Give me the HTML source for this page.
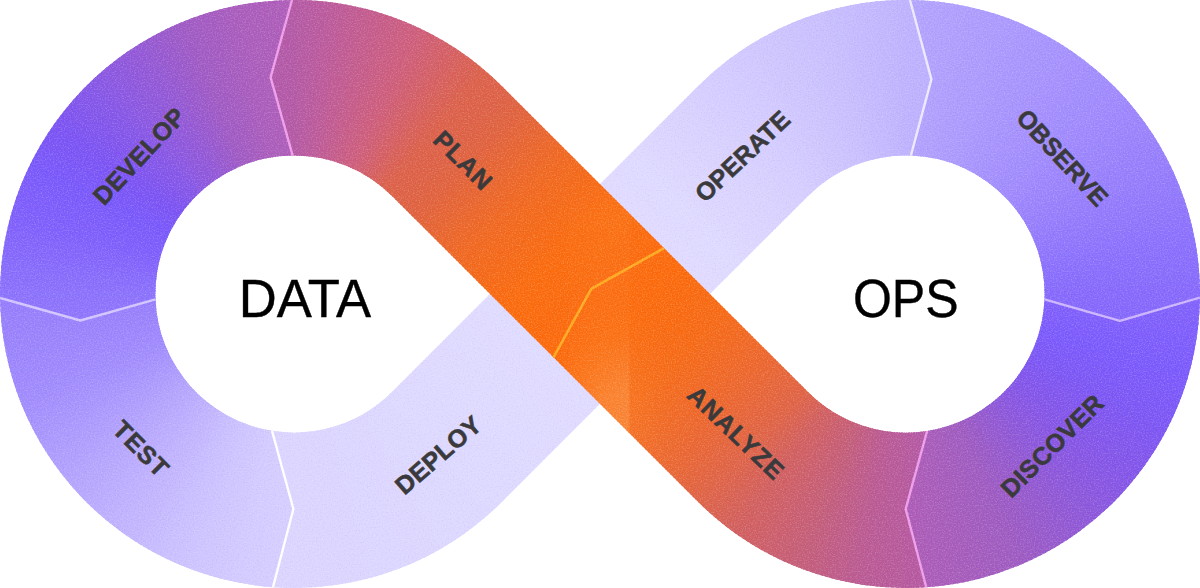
<!DOCTYPE html>
<html lang="en"><head><meta charset="utf-8"><title>DataOps loop</title>
<style>html,body{margin:0;padding:0;background:#fff}body{width:1200px;height:588px;overflow:hidden;font-family:"Liberation Sans",sans-serif}svg{display:block}.lb{font-family:"Liberation Sans",sans-serif;font-weight:700;font-size:25px;fill:#3a3a3c;stroke:#3a3a3c;stroke-width:.6px;text-anchor:middle}.ct{font-family:"Liberation Sans",sans-serif;font-weight:400;font-size:54px;fill:#000;stroke:#000;stroke-width:.4px;text-anchor:middle}</style></head><body>
<svg width="1200" height="588" viewBox="0 0 1200 588">
<defs>
<clipPath id="cDEVELOP"><path d="M292 0.01 L270.6 77.4 L292.6 155.41 A138.6 138.6 0 0 0 155.5 299.3 L80.4 320.5 L0.03 298 A294 294 0 0 1 292 0.01Z"/></clipPath>
<clipPath id="cTEST"><path d="M0.03 298 L80.4 320.5 L155.5 299.3 A138.6 138.6 0 0 0 272.01 430.84 L293.4 509 L272.95 587.25 A294 294 0 0 1 0.03 298Z"/></clipPath>
<clipPath id="cPLAN"><path d="M292 0.01 A294 294 0 0 1 501.82 86.04 L664 248.1 L591.3 288.8 L553.46 357.34 L391.97 195.96 A138.6 138.6 0 0 0 292.6 155.41 L270.6 77.4Z"/></clipPath>
<clipPath id="cANALYZE"><path d="M664 248.1 L591.3 288.8 L553.46 357.34 L698.18 501.96 A294 294 0 0 0 926.25 587.3 L905.7 509 L927.11 430.98 A138.6 138.6 0 0 1 808.03 392.04 Z"/></clipPath>
<clipPath id="cDISCOVER"><path d="M927.11 430.98 L905.7 509 L926.25 587.3 A294 294 0 0 0 1199.98 297.6 L1119.9 320.9 L1044.5 299.32 A138.6 138.6 0 0 1 927.11 430.98Z"/></clipPath>
<clipPath id="cOBSERVE"><path d="M910 0.03 L931.4 79.4 L910.91 155.49 A138.6 138.6 0 0 1 1044.5 299.32 L1119.9 320.9 L1199.98 297.6 A294 294 0 0 0 910 0.03Z"/></clipPath>
<clipPath id="cDEPLOY"><path d="M272.01 430.84 L293.4 509 L272.95 587.25 A294 294 0 0 0 501.82 501.96 L657.05 346.84 L547.2 236.92 L391.97 392.04 A138.6 138.6 0 0 1 272.01 430.84Z"/></clipPath>
<clipPath id="cOPERATE"><path d="M545.08 239.04 L698.18 86.04 A294 294 0 0 1 910 0.03 L931.4 79.4 L910.91 155.49 A138.6 138.6 0 0 0 808.03 195.96 L808.03 195.96 L654.92 348.96Z"/></clipPath>
<linearGradient id="fh" gradientUnits="userSpaceOnUse" x1="560" y1="0" x2="700" y2="0"><stop offset="0" stop-color="#ffa85c" stop-opacity="0"/><stop offset=".1" stop-color="#ffa85c" stop-opacity=".18"/><stop offset=".3" stop-color="#ffa85c" stop-opacity=".37"/><stop offset=".485" stop-color="#ffa85c" stop-opacity=".44"/><stop offset=".505" stop-color="#ffa85c" stop-opacity=".14"/><stop offset=".75" stop-color="#ffa85c" stop-opacity=".04"/><stop offset="1" stop-color="#ffa85c" stop-opacity="0"/></linearGradient>
<linearGradient id="fv" gradientUnits="userSpaceOnUse" x1="0" y1="180" x2="0" y2="480"><stop offset="0" stop-color="#fff" stop-opacity="0"/><stop offset=".12" stop-color="#fff" stop-opacity=".22"/><stop offset=".4" stop-color="#fff" stop-opacity=".16"/><stop offset=".53" stop-color="#fff" stop-opacity=".3"/><stop offset=".72" stop-color="#fff" stop-opacity="1"/><stop offset="1" stop-color="#fff" stop-opacity="1"/></linearGradient>
<mask id="fm" maskUnits="userSpaceOnUse" x="540" y="180" width="200" height="300"><rect x="540" y="180" width="200" height="300" fill="url(#fv)"/></mask>
<clipPath id="cORANGE"><path d="M292 0.01 A294 294 0 0 1 501.82 86.04 L664 248.1 L591.3 288.8 L553.46 357.34 L391.97 195.96 A138.6 138.6 0 0 0 292.6 155.41 L270.6 77.4Z"/><path d="M664 248.1 L591.3 288.8 L553.46 357.34 L698.18 501.96 A294 294 0 0 0 926.25 587.3 L905.7 509 L927.11 430.98 A138.6 138.6 0 0 1 808.03 392.04 Z"/></clipPath>
<clipPath id="cALL"><path d="M292 0.01 L270.6 77.4 L292.6 155.41 A138.6 138.6 0 0 0 155.5 299.3 L80.4 320.5 L0.03 298 A294 294 0 0 1 292 0.01Z"/><path d="M0.03 298 L80.4 320.5 L155.5 299.3 A138.6 138.6 0 0 0 272.01 430.84 L293.4 509 L272.95 587.25 A294 294 0 0 1 0.03 298Z"/><path d="M292 0.01 A294 294 0 0 1 501.82 86.04 L664 248.1 L591.3 288.8 L553.46 357.34 L391.97 195.96 A138.6 138.6 0 0 0 292.6 155.41 L270.6 77.4Z"/><path d="M664 248.1 L591.3 288.8 L553.46 357.34 L698.18 501.96 A294 294 0 0 0 926.25 587.3 L905.7 509 L927.11 430.98 A138.6 138.6 0 0 1 808.03 392.04 Z"/><path d="M927.11 430.98 L905.7 509 L926.25 587.3 A294 294 0 0 0 1199.98 297.6 L1119.9 320.9 L1044.5 299.32 A138.6 138.6 0 0 1 927.11 430.98Z"/><path d="M910 0.03 L931.4 79.4 L910.91 155.49 A138.6 138.6 0 0 1 1044.5 299.32 L1119.9 320.9 L1199.98 297.6 A294 294 0 0 0 910 0.03Z"/><path d="M272.01 430.84 L293.4 509 L272.95 587.25 A294 294 0 0 0 501.82 501.96 L657.05 346.84 L547.2 236.92 L391.97 392.04 A138.6 138.6 0 0 1 272.01 430.84Z"/><path d="M545.08 239.04 L698.18 86.04 A294 294 0 0 1 910 0.03 L931.4 79.4 L910.91 155.49 A138.6 138.6 0 0 0 808.03 195.96 L808.03 195.96 L654.92 348.96Z"/></clipPath>
<filter id="grain" x="0" y="0" width="1200" height="588" filterUnits="userSpaceOnUse" color-interpolation-filters="sRGB"><feTurbulence type="fractalNoise" baseFrequency="0.73" numOctaves="2" seed="5" result="n"/><feColorMatrix in="n" type="matrix" values="0 0 0 0 1  0 0 0 0 1  0 0 0 0 1  0.5 0 0 0 -0.235" result="w"/><feColorMatrix in="n" type="matrix" values="0 0 0 0 .2  0 0 0 0 0  0 0 0 0 .4  -0.16 0 0 0 0.07" result="b"/><feMerge><feMergeNode in="w"/><feMergeNode in="b"/></feMerge></filter>
</defs>
<g clip-path="url(#cDEPLOY)" shape-rendering="crispEdges">
<path d="M262.89 418.78 L220.46 588.97 L228.72 590.91 L266.38 419.6Z" fill="#dbd5ff"/>
<path d="M265.07 419.3 L225.61 590.21 L233.91 592 L268.58 420.06Z" fill="#dbd5ff"/>
<path d="M267.26 419.79 L230.79 591.36 L239.12 593 L270.78 420.49Z" fill="#dbd5ff"/>
<path d="M269.46 420.24 L235.99 592.41 L244.34 593.92 L272.99 420.87Z" fill="#dbd5ff"/>
<path d="M271.67 420.65 L241.2 593.38 L249.58 594.74 L275.21 421.22Z" fill="#dbd5ff"/>
<path d="M273.88 421.02 L246.44 594.26 L254.84 595.47 L277.43 421.53Z" fill="#dbd5ff"/>
<path d="M276.1 421.35 L251.68 595.04 L260.1 596.1 L279.66 421.8Z" fill="#dbd5ff"/>
<path d="M278.32 421.64 L256.94 595.73 L265.38 596.65 L281.89 422.03Z" fill="#dbd5ff"/>
<path d="M280.55 421.89 L262.21 596.33 L270.66 597.1 L284.13 422.22Z" fill="#dbd5ff"/>
<path d="M282.79 422.11 L267.49 596.84 L275.95 597.46 L286.37 422.37Z" fill="#dbd5ff"/>
<path d="M285.02 422.29 L272.78 597.26 L281.25 597.73 L288.61 422.49Z" fill="#dcd5ff"/>
<path d="M287.26 422.42 L278.07 597.58 L286.55 597.91 L290.85 422.56Z" fill="#dcd5ff"/>
<path d="M289.5 422.52 L283.37 597.81 L291.85 597.99 L293.09 422.6Z" fill="#dcd5ff"/>
<path d="M291.75 422.58 L288.67 597.95 L297.16 597.98 L295.34 422.59Z" fill="#dcd6ff"/>
<path d="M293.99 422.6 L293.98 598 L302.46 597.88 L297.58 422.55Z" fill="#dcd6ff"/>
<path d="M296.23 422.58 L299.28 597.95 L307.76 597.69 L299.82 422.47Z" fill="#dcd6ff"/>
<path d="M298.48 422.52 L304.58 597.82 L313.06 597.4 L302.06 422.35Z" fill="#dcd6ff"/>
<path d="M300.72 422.42 L309.88 597.58 L318.35 597.02 L304.3 422.19Z" fill="#dcd6ff"/>
<path d="M302.96 422.29 L315.17 597.26 L323.63 596.55 L306.53 421.99Z" fill="#dcd6ff"/>
<path d="M305.19 422.11 L320.46 596.85 L328.91 595.99 L308.77 421.75Z" fill="#dcd6ff"/>
<path d="M307.43 421.9 L325.74 596.34 L334.17 595.33 L310.99 421.47Z" fill="#dcd6ff"/>
<path d="M309.66 421.64 L331.01 595.74 L339.42 594.59 L313.21 421.16Z" fill="#dcd6ff"/>
<path d="M311.88 421.35 L336.27 595.05 L344.66 593.75 L315.43 420.8Z" fill="#dcd6ff"/>
<path d="M314.1 421.02 L341.52 594.26 L349.88 592.82 L317.64 420.41Z" fill="#dcd6ff"/>
<path d="M316.31 420.65 L346.75 593.39 L355.08 591.8 L319.84 419.98Z" fill="#dcd6ff"/>
<path d="M318.52 420.24 L351.96 592.42 L360.27 590.69 L322.03 419.51Z" fill="#dcd6ff"/>
<path d="M320.72 419.79 L357.16 591.37 L365.44 589.49 L324.22 419Z" fill="#dcd6ff"/>
<path d="M322.91 419.31 L362.34 590.22 L370.58 588.2 L326.4 418.45Z" fill="#dcd6ff"/>
<path d="M325.09 418.79 L367.5 588.98 L375.7 586.82 L328.56 417.87Z" fill="#dcd6ff"/>
<path d="M327.26 418.22 L372.63 587.65 L380.8 585.35 L330.72 417.25Z" fill="#dcd7ff"/>
<path d="M329.43 417.62 L377.74 586.24 L385.87 583.79 L332.86 416.59Z" fill="#dcd7ff"/>
<path d="M331.58 416.99 L382.83 584.73 L390.91 582.14 L335 415.89Z" fill="#dcd7ff"/>
<path d="M333.72 416.31 L387.89 583.14 L395.92 580.41 L337.12 415.16Z" fill="#dcd7ff"/>
<path d="M335.84 415.6 L392.92 581.46 L400.9 578.58 L339.22 414.39Z" fill="#dcd7ff"/>
<path d="M337.96 414.85 L397.92 579.69 L405.85 576.67 L341.32 413.58Z" fill="#dcd7ff"/>
<path d="M340.06 414.07 L402.89 577.83 L410.77 574.68 L343.4 412.74Z" fill="#dcd7ff"/>
<path d="M342.15 413.25 L407.82 575.89 L415.65 572.6 L345.46 411.86Z" fill="#dcd7ff"/>
<path d="M344.22 412.39 L412.72 573.86 L420.49 570.44 L347.51 410.94Z" fill="#ddd7ff"/>
<path d="M346.28 411.49 L417.59 571.75 L425.29 568.19 L349.54 409.99Z" fill="#ddd7ff"/>
<path d="M348.32 410.56 L422.41 569.55 L430.06 565.85 L351.55 409Z" fill="#ddd7ff"/>
<path d="M350.35 409.6 L427.2 567.26 L434.78 563.44 L353.55 407.98Z" fill="#ddd7ff"/>
<path d="M352.36 408.6 L431.95 564.9 L439.46 560.94 L355.53 406.92Z" fill="#ddd7ff"/>
<path d="M354.35 407.56 L436.65 562.45 L444.09 558.36 L357.49 405.83Z" fill="#ddd7ff"/>
<path d="M356.32 406.49 L441.32 559.92 L448.68 555.71 L359.43 404.71Z" fill="#ddd7ff"/>
<path d="M358.27 405.39 L445.93 557.31 L453.22 552.97 L361.36 403.55Z" fill="#ddd8ff"/>
<path d="M360.2 404.25 L450.5 554.62 L457.72 550.15 L363.26 402.36Z" fill="#ddd8ff"/>
<path d="M362.12 403.08 L455.03 551.85 L462.16 547.25 L365.14 401.13Z" fill="#ddd8ff"/>
<path d="M364.01 401.87 L459.5 549 L466.55 544.28 L366.99 399.88Z" fill="#ddd8ff"/>
<path d="M365.88 400.63 L463.92 546.08 L470.89 541.23 L368.83 398.59Z" fill="#ddd8ff"/>
<path d="M367.73 399.36 L468.3 543.07 L475.18 538.11 L370.64 397.26Z" fill="#ddd8ff"/>
<path d="M369.56 398.06 L472.61 539.99 L479.41 534.91 L372.43 395.91Z" fill="#ddd8ff"/>
<path d="M371.36 396.73 L476.88 536.84 L483.59 531.64 L374.2 394.53Z" fill="#ddd8ff"/>
<path d="M373.14 395.36 L481.09 533.61 L487.7 528.3 L375.94 393.11Z" fill="#ddd8ff"/>
<path d="M374.9 393.97 L485.24 530.31 L491.76 524.88 L377.66 391.67Z" fill="#ddd8ff"/>
<path d="M376.63 392.54 L489.33 526.94 L495.76 521.4 L379.35 390.19Z" fill="#ddd8ff"/>
<path d="M378.34 391.08 L493.37 523.5 L499.7 517.84 L381.02 388.69Z" fill="#ddd8ff"/>
<path d="M380.02 389.6 L497.34 519.98 L503.57 514.22 L382.65 387.16Z" fill="#ded9ff"/>
<path d="M381.67 388.08 L501.25 516.4 L507.38 510.53 L384.27 385.6Z" fill="#ded9ff"/>
<path d="M383.3 386.54 L505.1 512.75 L511.13 506.77 L385.85 384.01Z" fill="#ded9ff"/>
<path d="M508.89 509.03 L512.77 505.15 L388.79 381.08 L384.9 384.97Z" fill="#ded9ff"/>
<path d="M511.71 506.21 L515.59 502.33 L391.61 378.26 L387.72 382.14Z" fill="#ded9ff"/>
<path d="M514.53 503.39 L518.41 499.51 L394.43 375.44 L390.55 379.32Z" fill="#ded9ff"/>
<path d="M517.35 500.57 L521.24 496.69 L397.25 372.62 L393.37 376.5Z" fill="#ded9ff"/>
<path d="M520.18 497.75 L524.06 493.87 L400.08 369.8 L396.19 373.68Z" fill="#ded9ff"/>
<path d="M523 494.93 L526.88 491.05 L402.9 366.98 L399.01 370.86Z" fill="#ded9ff"/>
<path d="M525.82 492.11 L529.7 488.23 L405.72 364.16 L401.84 368.04Z" fill="#ded9ff"/>
<path d="M528.64 489.29 L532.53 485.41 L408.54 361.34 L404.66 365.22Z" fill="#ded9ff"/>
<path d="M531.46 486.47 L535.35 482.59 L411.36 358.52 L407.48 362.4Z" fill="#ded9ff"/>
<path d="M534.29 483.65 L538.17 479.77 L414.19 355.7 L410.3 359.58Z" fill="#dedaff"/>
<path d="M537.11 480.83 L540.99 476.95 L417.01 352.88 L413.13 356.76Z" fill="#dedaff"/>
<path d="M539.93 478.01 L543.82 474.13 L419.83 350.06 L415.95 353.94Z" fill="#dfdaff"/>
<path d="M542.75 475.19 L546.64 471.31 L422.65 347.24 L418.77 351.12Z" fill="#dfdaff"/>
<path d="M545.58 472.37 L549.46 468.49 L425.48 344.42 L421.59 348.3Z" fill="#dfdaff"/>
<path d="M548.4 469.55 L552.28 465.67 L428.3 341.6 L424.42 345.48Z" fill="#dfdaff"/>
<path d="M551.22 466.73 L555.1 462.85 L431.12 338.78 L427.24 342.66Z" fill="#dfdaff"/>
<path d="M554.04 463.91 L557.93 460.03 L433.94 335.96 L430.06 339.84Z" fill="#dfdaff"/>
<path d="M556.87 461.09 L560.75 457.21 L436.77 333.14 L432.88 337.02Z" fill="#dfdaff"/>
<path d="M559.69 458.27 L563.57 454.39 L439.59 330.32 L435.7 334.2Z" fill="#dfdaff"/>
<path d="M562.51 455.45 L566.39 451.57 L442.41 327.5 L438.53 331.38Z" fill="#dfdaff"/>
<path d="M565.33 452.63 L569.22 448.75 L445.23 324.68 L441.35 328.56Z" fill="#dfdbff"/>
<path d="M568.16 449.81 L572.04 445.93 L448.05 321.86 L444.17 325.74Z" fill="#dfdbff"/>
<path d="M570.98 446.99 L574.86 443.11 L450.88 319.04 L446.99 322.92Z" fill="#dfdbff"/>
<path d="M573.8 444.17 L577.68 440.29 L453.7 316.22 L449.82 320.1Z" fill="#dfdbff"/>
<path d="M576.62 441.35 L580.51 437.46 L456.52 313.4 L452.64 317.28Z" fill="#e0dbff"/>
<path d="M579.44 438.53 L583.33 434.64 L459.34 310.58 L455.46 314.46Z" fill="#e0dbff"/>
<path d="M582.27 435.7 L586.15 431.82 L462.17 307.75 L458.28 311.64Z" fill="#e0dbff"/>
<path d="M585.09 432.88 L588.97 429 L464.99 304.93 L461.11 308.82Z" fill="#e0dbff"/>
<path d="M587.91 430.06 L591.79 426.18 L467.81 302.11 L463.93 305.99Z" fill="#e0dbff"/>
<path d="M590.73 427.24 L594.62 423.36 L470.63 299.29 L466.75 303.17Z" fill="#e0dbff"/>
<path d="M593.56 424.42 L597.44 420.54 L473.46 296.47 L469.57 300.35Z" fill="#e0dbff"/>
<path d="M596.38 421.6 L600.26 417.72 L476.28 293.65 L472.39 297.53Z" fill="#e0dcff"/>
<path d="M599.2 418.78 L603.08 414.9 L479.1 290.83 L475.22 294.71Z" fill="#e0dcff"/>
<path d="M602.02 415.96 L605.91 412.08 L481.92 288.01 L478.04 291.89Z" fill="#e0dcff"/>
<path d="M604.85 413.14 L608.73 409.26 L484.74 285.19 L480.86 289.07Z" fill="#e0dcff"/>
<path d="M607.67 410.32 L611.55 406.44 L487.57 282.37 L483.68 286.25Z" fill="#e0dcff"/>
<path d="M610.49 407.5 L614.37 403.62 L490.39 279.55 L486.51 283.43Z" fill="#e0dcff"/>
<path d="M613.31 404.68 L617.2 400.8 L493.21 276.73 L489.33 280.61Z" fill="#e0dcff"/>
<path d="M616.13 401.86 L620.02 397.98 L496.03 273.91 L492.15 277.79Z" fill="#e1dcff"/>
<path d="M618.96 399.04 L622.84 395.16 L498.86 271.09 L494.97 274.97Z" fill="#e1dcff"/>
<path d="M621.78 396.22 L625.66 392.34 L501.68 268.27 L497.8 272.15Z" fill="#e1dcff"/>
<path d="M624.6 393.4 L628.48 389.52 L504.5 265.45 L500.62 269.33Z" fill="#e1dcff"/>
<path d="M627.42 390.58 L631.31 386.7 L507.32 262.63 L503.44 266.51Z" fill="#e1dcff"/>
<path d="M630.25 387.76 L634.13 383.88 L510.15 259.81 L506.26 263.69Z" fill="#e1ddff"/>
<path d="M633.07 384.94 L636.95 381.06 L512.97 256.99 L509.08 260.87Z" fill="#e1ddff"/>
<path d="M635.89 382.12 L639.77 378.24 L515.79 254.17 L511.91 258.05Z" fill="#e1ddff"/>
<path d="M638.71 379.3 L642.6 375.42 L518.61 251.35 L514.73 255.23Z" fill="#e1ddff"/>
<path d="M641.54 376.48 L645.42 372.6 L521.43 248.53 L517.55 252.41Z" fill="#e1ddff"/>
<path d="M644.36 373.66 L648.24 369.78 L524.26 245.71 L520.37 249.59Z" fill="#e1ddff"/>
<path d="M647.18 370.84 L651.06 366.96 L527.08 242.89 L523.2 246.77Z" fill="#e1ddff"/>
<path d="M650 368.02 L653.89 364.14 L529.9 240.07 L526.02 243.95Z" fill="#e1ddff"/>
<path d="M652.82 365.2 L656.71 361.31 L532.72 237.25 L528.84 241.13Z" fill="#e2ddff"/>
<path d="M655.65 362.38 L659.53 358.49 L535.55 234.43 L531.66 238.31Z" fill="#e2ddff"/>
<path d="M658.47 359.55 L662.35 355.67 L538.37 231.6 L534.49 235.49Z" fill="#e2ddff"/>
<path d="M661.29 356.73 L665.17 352.85 L541.19 228.78 L537.31 232.67Z" fill="#e2deff"/>
</g>
<g clip-path="url(#cOPERATE)" shape-rendering="crispEdges">
<path d="M661.99 356.03 L665.84 352.19 L541.85 228.12 L538.01 231.97Z" fill="#e2deff"/>
<path d="M664.78 353.25 L668.62 349.41 L544.64 225.34 L540.79 229.18Z" fill="#e2deff"/>
<path d="M667.56 350.47 L671.4 346.63 L547.42 222.56 L543.58 226.4Z" fill="#e2ddff"/>
<path d="M670.34 347.69 L674.19 343.85 L550.2 219.78 L546.36 223.62Z" fill="#e2ddff"/>
<path d="M673.13 344.91 L676.97 341.07 L552.99 217 L549.14 220.84Z" fill="#e2ddff"/>
<path d="M675.91 342.13 L679.76 338.28 L555.77 214.21 L551.93 218.06Z" fill="#e1ddff"/>
<path d="M678.69 339.34 L682.54 335.5 L558.56 211.43 L554.71 215.27Z" fill="#e1ddff"/>
<path d="M681.48 336.56 L685.32 332.72 L561.34 208.65 L557.49 212.49Z" fill="#e1ddff"/>
<path d="M684.26 333.78 L688.11 329.94 L564.12 205.87 L560.28 209.71Z" fill="#e1ddff"/>
<path d="M687.05 331 L690.89 327.16 L566.91 203.09 L563.06 206.93Z" fill="#e1ddff"/>
<path d="M689.83 328.22 L693.67 324.37 L569.69 200.31 L565.85 204.15Z" fill="#e1dcff"/>
<path d="M692.61 325.43 L696.46 321.59 L572.47 197.52 L568.63 201.37Z" fill="#e1dcff"/>
<path d="M695.4 322.65 L699.24 318.81 L575.26 194.74 L571.41 198.58Z" fill="#e1dcff"/>
<path d="M698.18 319.87 L702.03 316.03 L578.04 191.96 L574.2 195.8Z" fill="#e1dcff"/>
<path d="M700.96 317.09 L704.81 313.25 L580.83 189.18 L576.98 193.02Z" fill="#e0dcff"/>
<path d="M703.75 314.31 L707.59 310.47 L583.61 186.4 L579.76 190.24Z" fill="#e0dcff"/>
<path d="M706.53 311.53 L710.38 307.68 L586.39 183.61 L582.55 187.46Z" fill="#e0dcff"/>
<path d="M709.32 308.74 L713.16 304.9 L589.18 180.83 L585.33 184.67Z" fill="#e0dbff"/>
<path d="M712.1 305.96 L715.94 302.12 L591.96 178.05 L588.12 181.89Z" fill="#e0dbff"/>
<path d="M714.88 303.18 L718.73 299.34 L594.74 175.27 L590.9 179.11Z" fill="#e0dbff"/>
<path d="M717.67 300.4 L721.51 296.56 L597.53 172.49 L593.68 176.33Z" fill="#e0dbff"/>
<path d="M720.45 297.62 L724.3 293.77 L600.31 169.71 L596.47 173.55Z" fill="#e0dbff"/>
<path d="M723.23 294.83 L727.08 290.99 L603.1 166.92 L599.25 170.77Z" fill="#e0dbff"/>
<path d="M726.02 292.05 L729.86 288.21 L605.88 164.14 L602.03 167.98Z" fill="#e0dbff"/>
<path d="M728.8 289.27 L732.65 285.43 L608.66 161.36 L604.82 165.2Z" fill="#dfdaff"/>
<path d="M731.59 286.49 L735.43 282.65 L611.45 158.58 L607.6 162.42Z" fill="#dfdaff"/>
<path d="M734.37 283.71 L738.21 279.87 L614.23 155.8 L610.39 159.64Z" fill="#dfdaff"/>
<path d="M737.15 280.93 L741 277.08 L617.01 153.01 L613.17 156.86Z" fill="#dfdaff"/>
<path d="M739.94 278.14 L743.78 274.3 L619.8 150.23 L615.95 154.07Z" fill="#dfdaff"/>
<path d="M742.72 275.36 L746.57 271.52 L622.58 147.45 L618.74 151.29Z" fill="#dfdaff"/>
<path d="M745.5 272.58 L749.35 268.74 L625.37 144.67 L621.52 148.51Z" fill="#dfdaff"/>
<path d="M748.29 269.8 L752.13 265.96 L628.15 141.89 L624.3 145.73Z" fill="#ded9ff"/>
<path d="M751.07 267.02 L754.92 263.17 L630.93 139.11 L627.09 142.95Z" fill="#ded9ff"/>
<path d="M753.86 264.23 L757.7 260.39 L633.72 136.32 L629.87 140.17Z" fill="#ded8ff"/>
<path d="M756.64 261.45 L760.48 257.61 L636.5 133.54 L632.66 137.38Z" fill="#ddd8ff"/>
<path d="M759.42 258.67 L763.27 254.83 L639.28 130.76 L635.44 134.6Z" fill="#ddd7ff"/>
<path d="M762.21 255.89 L766.05 252.05 L642.07 127.98 L638.22 131.82Z" fill="#ddd7ff"/>
<path d="M764.99 253.11 L768.83 249.27 L644.85 125.2 L641.01 129.04Z" fill="#dcd7ff"/>
<path d="M767.77 250.33 L771.62 246.48 L647.63 122.41 L643.79 126.26Z" fill="#dcd6ff"/>
<path d="M770.56 247.54 L774.4 243.7 L650.42 119.63 L646.57 123.47Z" fill="#dcd6ff"/>
<path d="M773.34 244.76 L777.19 240.92 L653.2 116.85 L649.36 120.69Z" fill="#dbd5ff"/>
<path d="M776.13 241.98 L779.97 238.14 L655.99 114.07 L652.14 117.91Z" fill="#dbd5ff"/>
<path d="M778.91 239.2 L782.75 235.36 L658.77 111.29 L654.93 115.13Z" fill="#dad4ff"/>
<path d="M781.69 236.42 L785.54 232.57 L661.55 108.51 L657.71 112.35Z" fill="#dad4ff"/>
<path d="M784.48 233.63 L788.32 229.79 L664.34 105.72 L660.49 109.57Z" fill="#dad3ff"/>
<path d="M787.26 230.85 L791.1 227.01 L667.12 102.94 L663.28 106.78Z" fill="#d9d3ff"/>
<path d="M790.04 228.07 L793.89 224.23 L669.9 100.16 L666.06 104Z" fill="#d9d3ff"/>
<path d="M792.83 225.29 L796.67 221.45 L672.69 97.38 L668.84 101.22Z" fill="#d9d2ff"/>
<path d="M795.61 222.51 L799.46 218.67 L675.47 94.6 L671.63 98.44Z" fill="#d8d2ff"/>
<path d="M798.4 219.73 L802.24 215.88 L678.26 91.81 L674.41 95.66Z" fill="#d8d1ff"/>
<path d="M801.18 216.94 L805.02 213.1 L681.04 89.03 L677.2 92.87Z" fill="#d8d1ff"/>
<path d="M803.96 214.16 L807.81 210.32 L683.82 86.25 L679.98 90.09Z" fill="#d7d0ff"/>
<path d="M806.75 211.38 L810.59 207.54 L686.61 83.47 L682.76 87.31Z" fill="#d7d0ff"/>
<path d="M809.53 208.6 L813.37 204.76 L689.39 80.69 L685.55 84.53Z" fill="#d6cfff"/>
<path d="M812.31 205.82 L816.16 201.97 L692.17 77.91 L688.33 81.75Z" fill="#d6cfff"/>
<path d="M815.1 203.03 L691.11 78.97 L697.2 73.05 L817.67 200.53Z" fill="#d6ceff"/>
<path d="M816.7 201.46 L694.9 75.25 L701.09 69.44 L819.32 199.01Z" fill="#d5ceff"/>
<path d="M818.33 199.92 L698.75 71.6 L705.04 65.9 L820.99 197.51Z" fill="#d5cdff"/>
<path d="M819.98 198.4 L702.66 68.02 L709.05 62.43 L822.68 196.04Z" fill="#d4cdff"/>
<path d="M821.66 196.92 L706.63 64.5 L713.12 59.03 L824.4 194.6Z" fill="#d4ccff"/>
<path d="M823.37 195.46 L710.67 61.06 L717.24 55.7 L826.15 193.19Z" fill="#d3ccff"/>
<path d="M825.1 194.03 L714.76 57.69 L721.43 52.44 L827.92 191.81Z" fill="#d3cbff"/>
<path d="M826.86 192.64 L718.91 54.39 L725.67 49.26 L829.72 190.47Z" fill="#d2cbff"/>
<path d="M828.64 191.27 L723.12 51.16 L729.97 46.15 L831.53 189.15Z" fill="#d2caff"/>
<path d="M830.44 189.94 L727.38 48.01 L734.32 43.12 L833.38 187.87Z" fill="#d2caff"/>
<path d="M832.27 188.64 L731.7 44.93 L738.72 40.16 L835.24 186.62Z" fill="#d1c9ff"/>
<path d="M834.12 187.37 L736.08 41.93 L743.18 37.28 L837.12 185.4Z" fill="#d1c9ff"/>
<path d="M835.99 186.13 L740.5 39 L747.68 34.48 L839.03 184.22Z" fill="#d0c8fe"/>
<path d="M837.88 184.92 L744.97 36.15 L752.23 31.76 L840.95 183.06Z" fill="#d0c7fe"/>
<path d="M839.79 183.75 L749.5 33.38 L756.83 29.11 L842.9 181.95Z" fill="#cfc7fe"/>
<path d="M841.73 182.61 L754.07 30.69 L761.48 26.55 L844.86 180.86Z" fill="#cfc6fe"/>
<path d="M843.68 181.51 L758.68 28.08 L766.16 24.07 L846.85 179.81Z" fill="#cec6fe"/>
<path d="M845.65 180.44 L763.35 25.55 L770.9 21.67 L848.85 178.8Z" fill="#cec5fe"/>
<path d="M847.64 179.4 L768.05 23.1 L775.67 19.36 L850.87 177.82Z" fill="#cdc5fe"/>
<path d="M849.65 178.4 L772.8 20.74 L780.48 17.12 L852.9 176.87Z" fill="#cdc4fe"/>
<path d="M851.68 177.44 L777.59 18.45 L785.33 14.98 L854.95 175.97Z" fill="#ccc4fe"/>
<path d="M853.72 176.51 L782.41 16.26 L790.21 12.91 L857.02 175.09Z" fill="#ccc3fe"/>
<path d="M855.78 175.61 L787.28 14.14 L795.14 10.94 L859.1 174.26Z" fill="#cbc3fe"/>
<path d="M857.85 174.75 L792.18 12.11 L800.09 9.05 L861.2 173.46Z" fill="#cbc2fe"/>
<path d="M859.94 173.93 L797.11 10.17 L805.08 7.24 L863.31 172.69Z" fill="#cbc1fe"/>
<path d="M862.04 173.15 L802.08 8.31 L810.1 5.52 L865.43 171.97Z" fill="#cac1fe"/>
<path d="M864.15 172.4 L807.08 6.54 L815.14 3.89 L867.57 171.28Z" fill="#cac0fe"/>
<path d="M866.28 171.69 L812.11 4.86 L820.22 2.35 L869.71 170.63Z" fill="#c9c0fe"/>
<path d="M868.42 171.01 L817.17 3.27 L825.32 0.9 L871.87 170.01Z" fill="#c9bffe"/>
<path d="M870.57 170.38 L822.26 1.76 L830.45 -0.46 L874.04 169.43Z" fill="#c8befe"/>
<path d="M872.74 169.78 L827.37 0.35 L835.6 -1.73 L876.22 168.9Z" fill="#c7befe"/>
<path d="M874.91 169.22 L832.5 -0.98 L840.77 -2.92 L878.4 168.4Z" fill="#c7bdfe"/>
<path d="M877.09 168.69 L837.66 -2.22 L845.96 -4.01 L880.6 167.93Z" fill="#c6bcfe"/>
<path d="M879.28 168.21 L842.84 -3.37 L851.16 -5.01 L882.8 167.51Z" fill="#c6bbfe"/>
<path d="M881.48 167.76 L848.04 -4.42 L856.39 -5.92 L885.01 167.12Z" fill="#c5bbfe"/>
<path d="M883.69 167.35 L853.25 -5.39 L861.63 -6.74 L887.23 166.78Z" fill="#c5bafe"/>
<path d="M885.9 166.98 L858.48 -6.26 L866.88 -7.47 L889.45 166.47Z" fill="#c4b9fe"/>
<path d="M888.12 166.65 L863.73 -7.05 L872.15 -8.11 L891.68 166.2Z" fill="#c4b9fe"/>
<path d="M890.34 166.36 L868.99 -7.74 L877.42 -8.65 L893.91 165.97Z" fill="#c3b8fe"/>
<path d="M892.57 166.1 L874.26 -8.34 L882.71 -9.11 L896.15 165.78Z" fill="#c2b7fe"/>
<path d="M894.8 165.89 L879.54 -8.85 L888 -9.47 L898.39 165.63Z" fill="#c2b6fe"/>
<path d="M897.04 165.71 L884.82 -9.26 L893.3 -9.73 L900.63 165.51Z" fill="#c1b6fe"/>
<path d="M899.28 165.58 L890.12 -9.58 L898.6 -9.91 L902.87 165.44Z" fill="#c1b5fe"/>
<path d="M901.52 165.48 L895.42 -9.82 L903.9 -9.99 L905.11 165.4Z" fill="#c0b4fe"/>
<path d="M903.77 165.42 L900.72 -9.95 L909.21 -9.98 L907.36 165.41Z" fill="#c0b3fe"/>
<path d="M906.01 165.4 L906.02 -10 L914.51 -9.88 L909.6 165.45Z" fill="#bfb3fe"/>
<path d="M908.25 165.42 L911.33 -9.95 L919.81 -9.69 L911.84 165.53Z" fill="#bfb2fe"/>
<path d="M910.5 165.48 L916.63 -9.81 L925.1 -9.4 L914.08 165.65Z" fill="#beb2fe"/>
<path d="M912.74 165.58 L921.93 -9.58 L930.4 -9.02 L916.32 165.81Z" fill="#beb2fe"/>
<path d="M914.98 165.71 L927.22 -9.26 L935.68 -8.55 L918.55 166.01Z" fill="#beb1fe"/>
<path d="M917.21 165.89 L932.51 -8.84 L940.95 -7.98 L920.79 166.25Z" fill="#beb1fe"/>
<path d="M919.45 166.1 L937.79 -8.33 L946.22 -7.33 L923.01 166.53Z" fill="#bdb1fd"/>
<path d="M921.68 166.36 L943.06 -7.73 L951.47 -6.58 L925.23 166.85Z" fill="#bdb0fd"/>
<path d="M923.9 166.65 L948.32 -7.04 L956.7 -5.74 L927.45 167.2Z" fill="#bdb0fd"/>
<path d="M926.12 166.98 L953.56 -6.26 L961.92 -4.81 L929.66 167.59Z" fill="#bdb0fd"/>
<path d="M928.33 167.35 L958.79 -5.38 L967.13 -3.79 L931.86 168.03Z" fill="#bdaffd"/>
<path d="M930.54 167.76 L964.01 -4.41 L972.32 -2.68 L934.05 168.5Z" fill="#bcaffd"/>
</g>
<g clip-path="url(#cTEST)" shape-rendering="crispEdges">
<path d="M166.1 280.56 L-8.33 262.22 L-9.1 270.68 L165.78 284.13Z" fill="#9379fc"/>
<path d="M165.89 282.79 L-8.84 267.5 L-9.46 275.97 L165.63 286.37Z" fill="#937afc"/>
<path d="M165.71 285.03 L-9.26 272.79 L-9.73 281.27 L165.51 288.61Z" fill="#947afc"/>
<path d="M165.58 287.27 L-9.58 278.09 L-9.91 286.57 L165.44 290.86Z" fill="#947bfc"/>
<path d="M165.48 289.51 L-9.81 283.39 L-9.99 291.88 L165.4 293.1Z" fill="#957cfc"/>
<path d="M165.42 291.76 L-9.95 288.69 L-9.98 297.18 L165.41 295.35Z" fill="#957cfc"/>
<path d="M165.4 294 L-10 294 L-9.88 302.49 L165.45 297.59Z" fill="#967dfc"/>
<path d="M165.42 296.24 L-9.95 299.31 L-9.69 307.79 L165.53 299.83Z" fill="#967efc"/>
<path d="M165.48 298.49 L-9.81 304.61 L-9.4 313.09 L165.65 302.07Z" fill="#977efc"/>
<path d="M165.58 300.73 L-9.58 309.91 L-9.02 318.38 L165.81 304.31Z" fill="#977ffc"/>
<path d="M165.71 302.97 L-9.26 315.21 L-8.55 323.67 L166.01 306.55Z" fill="#9880fc"/>
<path d="M165.89 305.21 L-8.84 320.5 L-7.99 328.94 L166.25 308.78Z" fill="#9981fc"/>
<path d="M166.1 307.44 L-8.33 325.78 L-7.33 334.21 L166.53 311.01Z" fill="#9981fc"/>
<path d="M166.36 309.67 L-7.73 331.05 L-6.58 339.46 L166.85 313.23Z" fill="#9a82fc"/>
<path d="M166.65 311.9 L-7.04 336.31 L-5.74 344.7 L167.2 315.45Z" fill="#9a83fc"/>
<path d="M166.98 314.12 L-6.26 341.56 L-4.81 349.92 L167.59 317.66Z" fill="#9b83fc"/>
<path d="M167.35 316.33 L-5.38 346.79 L-3.79 355.13 L168.03 319.86Z" fill="#9b84fc"/>
<path d="M167.76 318.54 L-4.41 352.01 L-2.68 360.32 L168.5 322.05Z" fill="#9c85fc"/>
<path d="M168.21 320.74 L-3.36 357.21 L-1.48 365.48 L169.01 324.24Z" fill="#9c86fc"/>
<path d="M168.7 322.93 L-2.21 362.39 L-0.18 370.63 L169.55 326.42Z" fill="#9d86fd"/>
<path d="M169.22 325.11 L-0.97 367.54 L1.2 375.75 L170.14 328.58Z" fill="#9e87fd"/>
<path d="M169.78 327.28 L0.36 372.68 L2.67 380.85 L170.76 330.74Z" fill="#9e88fd"/>
<path d="M170.38 329.45 L1.78 377.79 L4.23 385.92 L171.42 332.88Z" fill="#9f88fd"/>
<path d="M171.02 331.6 L3.28 382.88 L5.88 390.96 L172.12 335.02Z" fill="#9f89fd"/>
<path d="M171.69 333.74 L4.88 387.94 L7.61 395.98 L172.85 337.14Z" fill="#a08afd"/>
<path d="M172.41 335.87 L6.56 392.97 L9.44 400.96 L173.62 339.25Z" fill="#a08bfd"/>
<path d="M173.16 337.98 L8.33 397.97 L11.35 405.91 L174.43 341.34Z" fill="#a18cfd"/>
<path d="M173.94 340.09 L10.19 402.94 L13.34 410.83 L175.28 343.42Z" fill="#a28dfd"/>
<path d="M174.76 342.17 L12.14 407.88 L15.43 415.71 L176.16 345.48Z" fill="#a38efd"/>
<path d="M175.62 344.25 L14.17 412.78 L17.59 420.55 L177.07 347.53Z" fill="#a48ffd"/>
<path d="M176.52 346.31 L16.28 417.65 L19.84 425.35 L178.02 349.57Z" fill="#a591fd"/>
<path d="M177.45 348.35 L18.48 422.48 L22.18 430.12 L179.01 351.58Z" fill="#a692fd"/>
<path d="M178.42 350.37 L20.77 427.26 L24.59 434.84 L180.03 353.58Z" fill="#a793fd"/>
<path d="M179.42 352.38 L23.13 432.01 L27.09 439.52 L181.09 355.56Z" fill="#a895fd"/>
<path d="M180.45 354.37 L25.58 436.72 L29.67 444.16 L182.18 357.52Z" fill="#a996fd"/>
<path d="M181.52 356.35 L28.12 441.38 L32.33 448.75 L183.31 359.46Z" fill="#aa97fd"/>
<path d="M182.63 358.3 L30.73 446 L35.08 453.29 L184.47 361.38Z" fill="#ab99fd"/>
<path d="M183.77 360.23 L33.42 450.57 L37.89 457.79 L185.66 363.29Z" fill="#ac9afd"/>
<path d="M184.94 362.15 L36.19 455.1 L40.79 462.23 L186.89 365.17Z" fill="#ad9bfd"/>
<path d="M186.15 364.04 L39.04 459.57 L43.77 466.62 L188.14 367.02Z" fill="#ae9cfd"/>
<path d="M187.39 365.91 L41.97 463.99 L46.82 470.97 L189.44 368.86Z" fill="#af9efd"/>
<path d="M188.66 367.76 L44.98 468.37 L49.94 475.25 L190.76 370.67Z" fill="#b09ffd"/>
<path d="M189.96 369.59 L48.06 472.69 L53.14 479.48 L192.11 372.46Z" fill="#b1a0fd"/>
<path d="M191.3 371.39 L51.21 476.95 L56.42 483.66 L193.5 374.23Z" fill="#b2a1fd"/>
<path d="M192.66 373.17 L54.44 481.16 L59.76 487.78 L194.91 375.97Z" fill="#b3a3fd"/>
<path d="M194.06 374.93 L57.75 485.31 L63.18 491.84 L196.36 377.69Z" fill="#b4a4fd"/>
<path d="M195.49 376.66 L61.12 489.41 L66.67 495.83 L197.83 379.38Z" fill="#b5a5fd"/>
<path d="M196.94 378.37 L64.57 493.44 L70.23 499.77 L199.34 381.05Z" fill="#b6a6fd"/>
<path d="M198.43 380.05 L68.08 497.42 L73.85 503.64 L200.87 382.69Z" fill="#b7a7fd"/>
<path d="M199.95 381.7 L71.67 501.33 L77.54 507.45 L202.43 384.3Z" fill="#b8a8fd"/>
<path d="M201.49 383.33 L75.32 505.18 L81.3 511.2 L204.02 385.88Z" fill="#b9aafe"/>
<path d="M203.07 384.93 L79.04 508.96 L85.13 514.88 L205.64 387.44Z" fill="#baabfe"/>
<path d="M204.67 386.51 L82.82 512.68 L89.01 518.49 L207.28 388.97Z" fill="#bbacfe"/>
<path d="M206.3 388.05 L86.67 516.33 L92.96 522.03 L208.96 390.46Z" fill="#bcadfe"/>
<path d="M207.95 389.57 L90.58 519.92 L96.97 525.51 L210.65 391.93Z" fill="#bdaefe"/>
<path d="M209.63 391.06 L94.56 523.43 L101.04 528.91 L212.37 393.37Z" fill="#beb0fe"/>
<path d="M211.34 392.51 L98.59 526.88 L105.17 532.24 L214.12 394.78Z" fill="#bfb1fe"/>
<path d="M213.07 393.94 L102.69 530.25 L109.36 535.5 L215.89 396.16Z" fill="#c0b2fe"/>
<path d="M214.83 395.34 L106.84 533.56 L113.6 538.69 L217.69 397.51Z" fill="#c1b3fe"/>
<path d="M216.61 396.7 L111.05 536.79 L117.9 541.8 L219.5 398.83Z" fill="#c2b4fe"/>
<path d="M218.41 398.04 L115.31 539.94 L122.25 544.83 L221.35 400.11Z" fill="#c2b5fe"/>
<path d="M220.24 399.34 L119.63 543.02 L126.65 547.79 L223.21 401.36Z" fill="#c3b6fe"/>
<path d="M222.09 400.61 L124.01 546.03 L131.11 550.68 L225.09 402.58Z" fill="#c4b7fe"/>
<path d="M223.96 401.85 L128.43 548.96 L135.61 553.48 L227 403.77Z" fill="#c5b8fe"/>
<path d="M225.85 403.06 L132.9 551.81 L140.17 556.2 L228.92 404.92Z" fill="#c6b9fe"/>
<path d="M227.77 404.23 L137.43 554.58 L144.77 558.85 L230.87 406.04Z" fill="#c7bbfe"/>
<path d="M229.7 405.37 L142 557.27 L149.41 561.41 L232.83 407.12Z" fill="#c7bcff"/>
<path d="M231.65 406.48 L146.62 559.88 L154.1 563.9 L234.82 408.17Z" fill="#c8bdff"/>
<path d="M233.63 407.55 L151.28 562.42 L158.83 566.3 L236.82 409.19Z" fill="#c9beff"/>
<path d="M235.62 408.58 L155.99 564.87 L163.6 568.61 L238.84 410.17Z" fill="#cabfff"/>
<path d="M237.63 409.58 L160.74 567.23 L168.42 570.85 L240.87 411.11Z" fill="#cbc0ff"/>
<path d="M239.65 410.55 L165.52 569.52 L173.27 573 L242.93 412.02Z" fill="#ccc1ff"/>
<path d="M241.69 411.48 L170.35 571.72 L178.15 575.06 L244.99 412.9Z" fill="#ccc2ff"/>
<path d="M243.75 412.38 L175.22 573.83 L183.08 577.04 L247.08 413.73Z" fill="#cdc3ff"/>
<path d="M245.83 413.24 L180.12 575.86 L188.03 578.93 L249.17 414.53Z" fill="#cdc3ff"/>
<path d="M247.91 414.06 L185.06 577.81 L193.02 580.74 L251.28 415.3Z" fill="#cec4ff"/>
<path d="M250.02 414.84 L190.03 579.67 L198.04 582.46 L253.41 416.03Z" fill="#cfc5ff"/>
<path d="M252.13 415.59 L195.03 581.44 L203.09 584.09 L255.54 416.72Z" fill="#cfc6ff"/>
<path d="M254.26 416.31 L200.06 583.12 L208.17 585.63 L257.69 417.37Z" fill="#d0c6ff"/>
<path d="M256.4 416.98 L205.12 584.72 L213.27 587.09 L259.85 417.98Z" fill="#d0c7ff"/>
<path d="M258.55 417.62 L210.21 586.22 L218.4 588.45 L262.02 418.56Z" fill="#d1c8ff"/>
<path d="M260.72 418.22 L215.32 587.64 L223.55 589.72 L264.2 419.1Z" fill="#d1c8ff"/>
<path d="M262.89 418.78 L220.46 588.97 L228.72 590.91 L266.39 419.6Z" fill="#d2c9ff"/>
<path d="M265.07 419.3 L225.61 590.21 L233.91 592 L268.58 420.06Z" fill="#d2caff"/>
<path d="M267.26 419.79 L230.79 591.36 L239.12 593.01 L270.79 420.49Z" fill="#d3cbff"/>
<path d="M269.46 420.24 L235.99 592.41 L244.35 593.92 L273 420.87Z" fill="#d3cbff"/>
<path d="M271.67 420.65 L241.21 593.38 L249.59 594.74 L275.21 421.22Z" fill="#d4ccff"/>
<path d="M273.88 421.02 L246.44 594.26 L254.85 595.47 L277.44 421.53Z" fill="#d4ccff"/>
<path d="M276.1 421.35 L251.69 595.04 L260.11 596.11 L279.67 421.8Z" fill="#d4ccff"/>
<path d="M278.33 421.64 L256.95 595.73 L265.39 596.65 L281.9 422.03Z" fill="#d5cdff"/>
<path d="M280.56 421.9 L262.22 596.33 L270.68 597.1 L284.13 422.22Z" fill="#d5cdff"/>
<path d="M282.79 422.11 L267.5 596.84 L275.97 597.46 L286.37 422.37Z" fill="#d5ceff"/>
<path d="M285.03 422.29 L272.79 597.26 L281.27 597.73 L288.61 422.49Z" fill="#d6ceff"/>
<path d="M287.27 422.42 L278.09 597.58 L286.57 597.91 L290.86 422.56Z" fill="#d6ceff"/>
<path d="M289.51 422.52 L283.39 597.81 L291.88 597.99 L293.1 422.6Z" fill="#d6cfff"/>
<path d="M291.76 422.58 L288.69 597.95 L297.18 597.98 L295.35 422.59Z" fill="#d6cfff"/>
<path d="M294 422.6 L294 598 L302.49 597.88 L297.59 422.55Z" fill="#d7cfff"/>
<path d="M296.24 422.58 L299.31 597.95 L307.79 597.69 L299.83 422.47Z" fill="#d7d0ff"/>
<path d="M298.49 422.52 L304.61 597.81 L313.09 597.4 L302.07 422.35Z" fill="#d7d0ff"/>
<path d="M300.73 422.42 L309.91 597.58 L318.38 597.02 L304.31 422.19Z" fill="#d7d0ff"/>
<path d="M302.97 422.29 L315.21 597.26 L323.67 596.55 L306.55 421.99Z" fill="#d7d0ff"/>
<path d="M305.21 422.11 L320.5 596.84 L328.94 595.99 L308.78 421.75Z" fill="#d7d1ff"/>
<path d="M307.44 421.9 L325.78 596.33 L334.21 595.33 L311.01 421.47Z" fill="#d8d1ff"/>
<path d="M309.67 421.64 L331.05 595.73 L339.46 594.58 L313.23 421.15Z" fill="#d8d1ff"/>
<path d="M311.9 421.35 L336.31 595.04 L344.7 593.74 L315.45 420.8Z" fill="#d8d1ff"/>
<path d="M314.12 421.02 L341.56 594.26 L349.92 592.81 L317.66 420.41Z" fill="#d8d2ff"/>
<path d="M316.33 420.65 L346.79 593.38 L355.13 591.79 L319.86 419.97Z" fill="#d8d2ff"/>
<path d="M318.54 420.24 L352.01 592.41 L360.32 590.68 L322.05 419.5Z" fill="#d8d2ff"/>
</g>
<g clip-path="url(#cDEVELOP)" shape-rendering="crispEdges">
<path d="M168.21 320.74 L-3.36 357.21 L-5.01 348.88 L167.51 317.21Z" fill="#927afc"/>
<path d="M167.76 318.54 L-4.41 352.01 L-5.92 343.65 L167.13 315Z" fill="#927afc"/>
<path d="M167.35 316.33 L-5.38 346.79 L-6.74 338.41 L166.78 312.79Z" fill="#9179fc"/>
<path d="M166.98 314.12 L-6.26 341.56 L-7.47 333.15 L166.47 310.56Z" fill="#9178fc"/>
<path d="M166.65 311.9 L-7.04 336.31 L-8.11 327.89 L166.2 308.33Z" fill="#9077fc"/>
<path d="M166.36 309.67 L-7.73 331.05 L-8.65 322.61 L165.97 306.1Z" fill="#8f77fc"/>
<path d="M166.1 307.44 L-8.33 325.78 L-9.1 317.32 L165.78 303.87Z" fill="#8f76fc"/>
<path d="M165.89 305.21 L-8.84 320.5 L-9.46 312.03 L165.63 301.63Z" fill="#8e75fc"/>
<path d="M165.71 302.97 L-9.26 315.21 L-9.73 306.73 L165.51 299.39Z" fill="#8e75fc"/>
<path d="M165.58 300.73 L-9.58 309.91 L-9.91 301.43 L165.44 297.14Z" fill="#8d74fc"/>
<path d="M165.48 298.49 L-9.81 304.61 L-9.99 296.12 L165.4 294.9Z" fill="#8d73fc"/>
<path d="M165.42 296.24 L-9.95 299.31 L-9.98 290.82 L165.41 292.65Z" fill="#8c73fc"/>
<path d="M165.4 294 L-10 294 L-9.88 285.51 L165.45 290.41Z" fill="#8c72fc"/>
<path d="M165.42 291.76 L-9.95 288.69 L-9.69 280.21 L165.53 288.17Z" fill="#8b70fc"/>
<path d="M165.48 289.51 L-9.81 283.39 L-9.4 274.91 L165.65 285.93Z" fill="#8a6ffc"/>
<path d="M165.58 287.27 L-9.58 278.09 L-9.02 269.62 L165.81 283.69Z" fill="#896efc"/>
<path d="M165.71 285.03 L-9.26 272.79 L-8.55 264.33 L166.01 281.45Z" fill="#896dfc"/>
<path d="M165.89 282.79 L-8.84 267.5 L-7.99 259.06 L166.25 279.22Z" fill="#886cfc"/>
<path d="M166.1 280.56 L-8.33 262.22 L-7.33 253.79 L166.53 276.99Z" fill="#876bfc"/>
<path d="M166.36 278.33 L-7.73 256.95 L-6.58 248.54 L166.85 274.77Z" fill="#8669fc"/>
<path d="M166.65 276.1 L-7.04 251.69 L-5.74 243.3 L167.2 272.55Z" fill="#8668fc"/>
<path d="M166.98 273.88 L-6.26 246.44 L-4.81 238.08 L167.59 270.34Z" fill="#8567fc"/>
<path d="M167.35 271.67 L-5.38 241.21 L-3.79 232.87 L168.03 268.14Z" fill="#8466fc"/>
<path d="M167.76 269.46 L-4.41 235.99 L-2.68 227.68 L168.5 265.95Z" fill="#8365fc"/>
<path d="M168.21 267.26 L-3.36 230.79 L-1.48 222.52 L169.01 263.76Z" fill="#8364fc"/>
<path d="M168.7 265.07 L-2.21 225.61 L-0.18 217.37 L169.55 261.58Z" fill="#8262fc"/>
<path d="M169.22 262.89 L-0.97 220.46 L1.2 212.25 L170.14 259.42Z" fill="#8161fc"/>
<path d="M169.78 260.72 L0.36 215.32 L2.67 207.15 L170.76 257.26Z" fill="#8060fc"/>
<path d="M170.38 258.55 L1.78 210.21 L4.23 202.08 L171.42 255.12Z" fill="#8060fc"/>
<path d="M171.02 256.4 L3.28 205.12 L5.88 197.04 L172.12 252.98Z" fill="#7f5ffc"/>
<path d="M171.69 254.26 L4.88 200.06 L7.61 192.02 L172.85 250.86Z" fill="#7f5efc"/>
<path d="M172.41 252.13 L6.56 195.03 L9.44 187.04 L173.62 248.75Z" fill="#7e5efb"/>
<path d="M173.16 250.02 L8.33 190.03 L11.35 182.09 L174.43 246.66Z" fill="#7e5dfb"/>
<path d="M173.94 247.91 L10.19 185.06 L13.34 177.17 L175.28 244.58Z" fill="#7d5dfb"/>
<path d="M174.76 245.83 L12.14 180.12 L15.43 172.29 L176.16 242.52Z" fill="#7d5cfb"/>
<path d="M175.62 243.75 L14.17 175.22 L17.59 167.45 L177.07 240.47Z" fill="#7c5bfb"/>
<path d="M176.52 241.69 L16.28 170.35 L19.84 162.65 L178.02 238.43Z" fill="#7c5bfb"/>
<path d="M177.45 239.65 L18.48 165.52 L22.18 157.88 L179.01 236.42Z" fill="#7b5afb"/>
<path d="M178.42 237.63 L20.77 160.74 L24.59 153.16 L180.03 234.42Z" fill="#7a59fb"/>
<path d="M179.42 235.62 L23.13 155.99 L27.09 148.48 L181.09 232.44Z" fill="#7b59fa"/>
<path d="M180.45 233.63 L25.58 151.28 L29.67 143.84 L182.18 230.48Z" fill="#7b58f9"/>
<path d="M181.52 231.65 L28.12 146.62 L32.33 139.25 L183.31 228.54Z" fill="#7b58f8"/>
<path d="M182.63 229.7 L30.73 142 L35.08 134.71 L184.47 226.62Z" fill="#7b57f7"/>
<path d="M183.77 227.77 L33.42 137.43 L37.89 130.21 L185.66 224.71Z" fill="#7c57f6"/>
<path d="M184.94 225.85 L36.19 132.9 L40.79 125.77 L186.89 222.83Z" fill="#7c56f5"/>
<path d="M186.15 223.96 L39.04 128.43 L43.77 121.38 L188.14 220.98Z" fill="#7c55f5"/>
<path d="M187.39 222.09 L41.97 124.01 L46.82 117.03 L189.44 219.14Z" fill="#7c55f4"/>
<path d="M188.66 220.24 L44.98 119.63 L49.94 112.75 L190.76 217.33Z" fill="#7d54f3"/>
<path d="M189.96 218.41 L48.06 115.31 L53.14 108.52 L192.11 215.54Z" fill="#7d55f2"/>
<path d="M191.3 216.61 L51.21 111.05 L56.42 104.34 L193.5 213.77Z" fill="#7f55f1"/>
<path d="M192.66 214.83 L54.44 106.84 L59.76 100.22 L194.91 212.03Z" fill="#8055ef"/>
<path d="M194.06 213.07 L57.75 102.69 L63.18 96.16 L196.36 210.31Z" fill="#8156ee"/>
<path d="M195.49 211.34 L61.12 98.59 L66.67 92.17 L197.83 208.62Z" fill="#8256ed"/>
<path d="M196.94 209.63 L64.57 94.56 L70.23 88.23 L199.34 206.95Z" fill="#8357ec"/>
<path d="M198.43 207.95 L68.08 90.58 L73.85 84.36 L200.87 205.31Z" fill="#8457eb"/>
<path d="M199.95 206.3 L71.67 86.67 L77.54 80.55 L202.43 203.7Z" fill="#8558ea"/>
<path d="M201.49 204.67 L75.32 82.82 L81.3 76.8 L204.02 202.12Z" fill="#8658e9"/>
<path d="M203.07 203.07 L79.04 79.04 L85.13 73.12 L205.64 200.56Z" fill="#8758e8"/>
<path d="M204.67 201.49 L82.82 75.32 L89.01 69.51 L207.28 199.03Z" fill="#8858e6"/>
<path d="M206.3 199.95 L86.67 71.67 L92.96 65.97 L208.96 197.54Z" fill="#8959e5"/>
<path d="M207.95 198.43 L90.58 68.08 L96.97 62.49 L210.65 196.07Z" fill="#8b59e3"/>
<path d="M209.63 196.94 L94.56 64.57 L101.04 59.09 L212.37 194.63Z" fill="#8c59e2"/>
<path d="M211.34 195.49 L98.59 61.12 L105.17 55.76 L214.12 193.22Z" fill="#8d59e1"/>
<path d="M213.07 194.06 L102.69 57.75 L109.36 52.5 L215.89 191.84Z" fill="#8e59df"/>
<path d="M214.83 192.66 L106.84 54.44 L113.6 49.31 L217.69 190.49Z" fill="#8f59de"/>
<path d="M216.61 191.3 L111.05 51.21 L117.9 46.2 L219.5 189.17Z" fill="#9059dc"/>
<path d="M218.41 189.96 L115.31 48.06 L122.25 43.17 L221.35 187.89Z" fill="#9159db"/>
<path d="M220.24 188.66 L119.63 44.98 L126.65 40.21 L223.21 186.64Z" fill="#9259da"/>
<path d="M222.09 187.39 L124.01 41.97 L131.11 37.32 L225.09 185.42Z" fill="#9359d8"/>
<path d="M223.96 186.15 L128.43 39.04 L135.61 34.52 L227 184.23Z" fill="#9459d7"/>
<path d="M225.85 184.94 L132.9 36.19 L140.17 31.8 L228.92 183.08Z" fill="#955ad5"/>
<path d="M227.77 183.77 L137.43 33.42 L144.77 29.15 L230.87 181.96Z" fill="#965ad3"/>
<path d="M229.7 182.63 L142 30.73 L149.41 26.59 L232.83 180.88Z" fill="#975ad1"/>
<path d="M231.65 181.52 L146.62 28.12 L154.1 24.1 L234.82 179.83Z" fill="#995ad0"/>
<path d="M233.63 180.45 L151.28 25.58 L158.83 21.7 L236.82 178.81Z" fill="#9a5ace"/>
<path d="M235.62 179.42 L155.99 23.13 L163.6 19.39 L238.84 177.83Z" fill="#9b5bcc"/>
<path d="M237.63 178.42 L160.74 20.77 L168.42 17.15 L240.87 176.89Z" fill="#9c5bca"/>
<path d="M239.65 177.45 L165.52 18.48 L173.27 15 L242.93 175.98Z" fill="#9d5bc9"/>
<path d="M241.69 176.52 L170.35 16.28 L178.15 12.94 L244.99 175.1Z" fill="#9f5bc7"/>
<path d="M243.75 175.62 L175.22 14.17 L183.08 10.96 L247.08 174.27Z" fill="#a05bc5"/>
<path d="M245.83 174.76 L180.12 12.14 L188.03 9.07 L249.17 173.47Z" fill="#a15cc4"/>
<path d="M247.91 173.94 L185.06 10.19 L193.02 7.26 L251.28 172.7Z" fill="#a25cc4"/>
<path d="M250.02 173.16 L190.03 8.33 L198.04 5.54 L253.41 171.97Z" fill="#a35cc3"/>
<path d="M252.13 172.41 L195.03 6.56 L203.09 3.91 L255.54 171.28Z" fill="#a45cc2"/>
<path d="M254.26 171.69 L200.06 4.88 L208.17 2.37 L257.69 170.63Z" fill="#a45cc2"/>
<path d="M256.4 171.02 L205.12 3.28 L213.27 0.91 L259.85 170.02Z" fill="#a55cc1"/>
<path d="M258.55 170.38 L210.21 1.78 L218.4 -0.45 L262.02 169.44Z" fill="#a65dc0"/>
<path d="M260.72 169.78 L215.32 0.36 L223.55 -1.72 L264.2 168.9Z" fill="#a75dbf"/>
<path d="M262.89 169.22 L220.46 -0.97 L228.72 -2.91 L266.39 168.4Z" fill="#a85dbf"/>
<path d="M265.07 168.7 L225.61 -2.21 L233.91 -4 L268.58 167.94Z" fill="#a95dbe"/>
<path d="M267.26 168.21 L230.79 -3.36 L239.12 -5.01 L270.79 167.51Z" fill="#aa5dbd"/>
<path d="M269.46 167.76 L235.99 -4.41 L244.35 -5.92 L273 167.13Z" fill="#ab5ebd"/>
<path d="M271.67 167.35 L241.21 -5.38 L249.59 -6.74 L275.21 166.78Z" fill="#ac5ebc"/>
<path d="M273.88 166.98 L246.44 -6.26 L254.85 -7.47 L277.44 166.47Z" fill="#ac5ebc"/>
<path d="M276.1 166.65 L251.69 -7.04 L260.11 -8.11 L279.67 166.2Z" fill="#ac5ebc"/>
<path d="M278.33 166.36 L256.95 -7.73 L265.39 -8.65 L281.9 165.97Z" fill="#ad5ebb"/>
<path d="M280.56 166.1 L262.22 -8.33 L270.68 -9.1 L284.13 165.78Z" fill="#ad5ebb"/>
<path d="M282.79 165.89 L267.5 -8.84 L275.97 -9.46 L286.37 165.63Z" fill="#ad5eba"/>
<path d="M285.03 165.71 L272.79 -9.26 L281.27 -9.73 L288.61 165.51Z" fill="#ae5eba"/>
<path d="M287.27 165.58 L278.09 -9.58 L286.57 -9.91 L290.86 165.44Z" fill="#ae5eba"/>
<path d="M289.51 165.48 L283.39 -9.81 L291.88 -9.99 L293.1 165.4Z" fill="#af5eb9"/>
<path d="M291.76 165.42 L288.69 -9.95 L297.18 -9.98 L295.35 165.41Z" fill="#af5eb9"/>
<path d="M294 165.4 L294 -10 L302.49 -9.88 L297.59 165.45Z" fill="#af5eb9"/>
<path d="M296.24 165.42 L299.31 -9.95 L307.79 -9.69 L299.83 165.53Z" fill="#af5eb9"/>
<path d="M298.49 165.48 L304.61 -9.81 L313.09 -9.4 L302.07 165.65Z" fill="#af5eb9"/>
<path d="M300.73 165.58 L309.91 -9.58 L318.38 -9.02 L304.31 165.81Z" fill="#af5eb9"/>
<path d="M302.97 165.71 L315.21 -9.26 L323.67 -8.55 L306.55 166.01Z" fill="#af5eb9"/>
<path d="M305.21 165.89 L320.5 -8.84 L328.94 -7.99 L308.78 166.25Z" fill="#af5eb9"/>
</g>
<g clip-path="url(#cOBSERVE)" shape-rendering="crispEdges">
<path d="M892.56 166.1 L874.22 -8.33 L882.68 -9.1 L896.13 165.78Z" fill="#b6a6fd"/>
<path d="M894.79 165.89 L879.5 -8.84 L887.97 -9.46 L898.37 165.63Z" fill="#b6a6fd"/>
<path d="M897.03 165.71 L884.79 -9.26 L893.27 -9.73 L900.61 165.51Z" fill="#b5a6fd"/>
<path d="M899.27 165.58 L890.09 -9.58 L898.57 -9.91 L902.86 165.44Z" fill="#b5a6fd"/>
<path d="M901.51 165.48 L895.39 -9.81 L903.88 -9.99 L905.1 165.4Z" fill="#b5a5fd"/>
<path d="M903.76 165.42 L900.69 -9.95 L909.18 -9.98 L907.35 165.41Z" fill="#b5a5fd"/>
<path d="M906 165.4 L906 -10 L914.49 -9.88 L909.59 165.45Z" fill="#b4a5fd"/>
<path d="M908.24 165.42 L911.31 -9.95 L919.79 -9.69 L911.83 165.53Z" fill="#b4a4fd"/>
<path d="M910.49 165.48 L916.61 -9.81 L925.09 -9.4 L914.07 165.65Z" fill="#b3a4fd"/>
<path d="M912.73 165.58 L921.91 -9.58 L930.38 -9.02 L916.31 165.81Z" fill="#b3a3fd"/>
<path d="M914.97 165.71 L927.21 -9.26 L935.67 -8.55 L918.55 166.01Z" fill="#b3a2fd"/>
<path d="M917.21 165.89 L932.5 -8.84 L940.94 -7.99 L920.78 166.25Z" fill="#b2a2fd"/>
<path d="M919.44 166.1 L937.78 -8.33 L946.21 -7.33 L923.01 166.53Z" fill="#b2a1fd"/>
<path d="M921.67 166.36 L943.05 -7.73 L951.46 -6.58 L925.23 166.85Z" fill="#b1a1fd"/>
<path d="M923.9 166.65 L948.31 -7.04 L956.7 -5.74 L927.45 167.2Z" fill="#b1a0fd"/>
<path d="M926.12 166.98 L953.56 -6.26 L961.92 -4.81 L929.66 167.59Z" fill="#b1a0fd"/>
<path d="M928.33 167.35 L958.79 -5.38 L967.13 -3.79 L931.86 168.03Z" fill="#b09ffd"/>
<path d="M930.54 167.76 L964.01 -4.41 L972.32 -2.68 L934.05 168.5Z" fill="#b09ffd"/>
<path d="M932.74 168.21 L969.21 -3.36 L977.48 -1.48 L936.24 169.01Z" fill="#af9efd"/>
<path d="M934.93 168.7 L974.39 -2.21 L982.63 -0.18 L938.42 169.55Z" fill="#af9dfd"/>
<path d="M937.11 169.22 L979.54 -0.97 L987.75 1.2 L940.58 170.14Z" fill="#ae9dfd"/>
<path d="M939.28 169.78 L984.68 0.36 L992.85 2.67 L942.74 170.76Z" fill="#ae9cfd"/>
<path d="M941.45 170.38 L989.79 1.78 L997.92 4.23 L944.88 171.42Z" fill="#ae9cfd"/>
<path d="M943.6 171.02 L994.88 3.28 L1002.96 5.88 L947.02 172.12Z" fill="#ad9bfd"/>
<path d="M945.74 171.69 L999.94 4.88 L1007.98 7.61 L949.14 172.85Z" fill="#ad9bfd"/>
<path d="M947.87 172.41 L1004.97 6.56 L1012.96 9.44 L951.25 173.62Z" fill="#ac9afd"/>
<path d="M949.98 173.16 L1009.97 8.33 L1017.91 11.35 L953.34 174.43Z" fill="#ac9afd"/>
<path d="M952.09 173.94 L1014.94 10.19 L1022.83 13.34 L955.42 175.28Z" fill="#ac99fd"/>
<path d="M954.17 174.76 L1019.88 12.14 L1027.71 15.43 L957.48 176.16Z" fill="#ab99fd"/>
<path d="M956.25 175.62 L1024.78 14.17 L1032.55 17.59 L959.53 177.07Z" fill="#ab98fd"/>
<path d="M958.31 176.52 L1029.65 16.28 L1037.35 19.84 L961.57 178.02Z" fill="#aa97fd"/>
<path d="M960.35 177.45 L1034.48 18.48 L1042.12 22.18 L963.58 179.01Z" fill="#aa97fd"/>
<path d="M962.37 178.42 L1039.26 20.77 L1046.84 24.59 L965.58 180.03Z" fill="#a996fd"/>
<path d="M964.38 179.42 L1044.01 23.13 L1051.52 27.09 L967.56 181.09Z" fill="#a996fd"/>
<path d="M966.37 180.45 L1048.72 25.58 L1056.16 29.67 L969.52 182.18Z" fill="#a895fd"/>
<path d="M968.35 181.52 L1053.38 28.12 L1060.75 32.33 L971.46 183.31Z" fill="#a894fd"/>
<path d="M970.3 182.63 L1058 30.73 L1065.29 35.08 L973.38 184.47Z" fill="#a794fd"/>
<path d="M972.23 183.77 L1062.57 33.42 L1069.79 37.89 L975.29 185.66Z" fill="#a793fd"/>
<path d="M974.15 184.94 L1067.1 36.19 L1074.23 40.79 L977.17 186.89Z" fill="#a793fd"/>
<path d="M976.04 186.15 L1071.57 39.04 L1078.62 43.77 L979.02 188.14Z" fill="#a692fd"/>
<path d="M977.91 187.39 L1075.99 41.97 L1082.97 46.82 L980.86 189.44Z" fill="#a691fd"/>
<path d="M979.76 188.66 L1080.37 44.98 L1087.25 49.94 L982.67 190.76Z" fill="#a591fd"/>
<path d="M981.59 189.96 L1084.69 48.06 L1091.48 53.14 L984.46 192.11Z" fill="#a590fd"/>
<path d="M983.39 191.3 L1088.95 51.21 L1095.66 56.42 L986.23 193.5Z" fill="#a490fd"/>
<path d="M985.17 192.66 L1093.16 54.44 L1099.78 59.76 L987.97 194.91Z" fill="#a48ffd"/>
<path d="M986.93 194.06 L1097.31 57.75 L1103.84 63.18 L989.69 196.36Z" fill="#a38efd"/>
<path d="M988.66 195.49 L1101.41 61.12 L1107.83 66.67 L991.38 197.83Z" fill="#a38efd"/>
<path d="M990.37 196.94 L1105.44 64.57 L1111.77 70.23 L993.05 199.34Z" fill="#a28dfd"/>
<path d="M992.05 198.43 L1109.42 68.08 L1115.64 73.85 L994.69 200.87Z" fill="#a28dfd"/>
<path d="M993.7 199.95 L1113.33 71.67 L1119.45 77.54 L996.3 202.43Z" fill="#a18cfd"/>
<path d="M995.33 201.49 L1117.18 75.32 L1123.2 81.3 L997.88 204.02Z" fill="#a18bfd"/>
<path d="M996.93 203.07 L1120.96 79.04 L1126.88 85.13 L999.44 205.64Z" fill="#a18bfd"/>
<path d="M998.51 204.67 L1124.68 82.82 L1130.49 89.01 L1000.97 207.28Z" fill="#a08afd"/>
<path d="M1000.05 206.3 L1128.33 86.67 L1134.03 92.96 L1002.46 208.96Z" fill="#9f89fd"/>
<path d="M1001.57 207.95 L1131.92 90.58 L1137.51 96.97 L1003.93 210.65Z" fill="#9f89fd"/>
<path d="M1003.06 209.63 L1135.43 94.56 L1140.91 101.04 L1005.37 212.37Z" fill="#9e88fd"/>
<path d="M1004.51 211.34 L1138.88 98.59 L1144.24 105.17 L1006.78 214.12Z" fill="#9e87fd"/>
<path d="M1005.94 213.07 L1142.25 102.69 L1147.5 109.36 L1008.16 215.89Z" fill="#9d86fd"/>
<path d="M1007.34 214.83 L1145.56 106.84 L1150.69 113.6 L1009.51 217.69Z" fill="#9c86fc"/>
<path d="M1008.7 216.61 L1148.79 111.05 L1153.8 117.9 L1010.83 219.5Z" fill="#9c85fc"/>
<path d="M1010.04 218.41 L1151.94 115.31 L1156.83 122.25 L1012.11 221.35Z" fill="#9b84fc"/>
<path d="M1011.34 220.24 L1155.02 119.63 L1159.79 126.65 L1013.36 223.21Z" fill="#9b83fc"/>
<path d="M1012.61 222.09 L1158.03 124.01 L1162.68 131.11 L1014.58 225.09Z" fill="#9a83fc"/>
<path d="M1013.85 223.96 L1160.96 128.43 L1165.48 135.61 L1015.77 227Z" fill="#9a82fc"/>
<path d="M1015.06 225.85 L1163.81 132.9 L1168.2 140.17 L1016.92 228.92Z" fill="#9981fc"/>
<path d="M1016.23 227.77 L1166.58 137.43 L1170.85 144.77 L1018.04 230.87Z" fill="#9880fc"/>
<path d="M1017.37 229.7 L1169.27 142 L1173.41 149.41 L1019.12 232.83Z" fill="#9880fc"/>
<path d="M1018.48 231.65 L1171.88 146.62 L1175.9 154.1 L1020.17 234.82Z" fill="#977ffc"/>
<path d="M1019.55 233.63 L1174.42 151.28 L1178.3 158.83 L1021.19 236.82Z" fill="#977efc"/>
<path d="M1020.58 235.62 L1176.87 155.99 L1180.61 163.6 L1022.17 238.84Z" fill="#967efc"/>
<path d="M1021.58 237.63 L1179.23 160.74 L1182.85 168.42 L1023.11 240.87Z" fill="#967dfc"/>
<path d="M1022.55 239.65 L1181.52 165.52 L1185 173.27 L1024.02 242.93Z" fill="#957cfc"/>
<path d="M1023.48 241.69 L1183.72 170.35 L1187.06 178.15 L1024.9 244.99Z" fill="#947bfc"/>
<path d="M1024.38 243.75 L1185.83 175.22 L1189.04 183.08 L1025.73 247.08Z" fill="#947afc"/>
<path d="M1025.24 245.83 L1187.86 180.12 L1190.93 188.03 L1026.53 249.17Z" fill="#937afc"/>
<path d="M1026.06 247.91 L1189.81 185.06 L1192.74 193.02 L1027.3 251.28Z" fill="#9279fc"/>
<path d="M1026.84 250.02 L1191.67 190.03 L1194.46 198.04 L1028.03 253.41Z" fill="#9278fc"/>
<path d="M1027.59 252.13 L1193.44 195.03 L1196.09 203.09 L1028.72 255.54Z" fill="#9177fc"/>
<path d="M1028.31 254.26 L1195.12 200.06 L1197.63 208.17 L1029.37 257.69Z" fill="#9076fc"/>
<path d="M1028.98 256.4 L1196.72 205.12 L1199.09 213.27 L1029.98 259.85Z" fill="#9075fc"/>
<path d="M1029.62 258.55 L1198.22 210.21 L1200.45 218.4 L1030.56 262.02Z" fill="#8f75fc"/>
<path d="M1030.22 260.72 L1199.64 215.32 L1201.72 223.55 L1031.1 264.2Z" fill="#8e74fd"/>
<path d="M1030.78 262.89 L1200.97 220.46 L1202.91 228.72 L1031.6 266.39Z" fill="#8d73fd"/>
<path d="M1031.3 265.07 L1202.21 225.61 L1204 233.91 L1032.06 268.58Z" fill="#8d72fd"/>
<path d="M1031.79 267.26 L1203.36 230.79 L1205.01 239.12 L1032.49 270.79Z" fill="#8c71fd"/>
<path d="M1032.24 269.46 L1204.41 235.99 L1205.92 244.35 L1032.87 273Z" fill="#8b71fd"/>
<path d="M1032.65 271.67 L1205.38 241.21 L1206.74 249.59 L1033.22 275.21Z" fill="#8b70fd"/>
<path d="M1033.02 273.88 L1206.26 246.44 L1207.47 254.85 L1033.53 277.44Z" fill="#8a6ffd"/>
<path d="M1033.35 276.1 L1207.04 251.69 L1208.11 260.11 L1033.8 279.67Z" fill="#8a6ffd"/>
<path d="M1033.64 278.33 L1207.73 256.95 L1208.65 265.39 L1034.03 281.9Z" fill="#8a6efd"/>
<path d="M1033.9 280.56 L1208.33 262.22 L1209.1 270.68 L1034.22 284.13Z" fill="#896dfc"/>
<path d="M1034.11 282.79 L1208.84 267.5 L1209.46 275.97 L1034.37 286.37Z" fill="#896dfc"/>
<path d="M1034.29 285.03 L1209.26 272.79 L1209.73 281.27 L1034.49 288.61Z" fill="#886cfc"/>
<path d="M1034.42 287.27 L1209.58 278.09 L1209.91 286.57 L1034.56 290.86Z" fill="#886cfc"/>
<path d="M1034.52 289.51 L1209.81 283.39 L1209.99 291.88 L1034.6 293.1Z" fill="#886bfc"/>
<path d="M1034.58 291.76 L1209.95 288.69 L1209.98 297.18 L1034.59 295.35Z" fill="#876afc"/>
<path d="M1034.6 294 L1210 294 L1209.88 302.49 L1034.55 297.59Z" fill="#876afc"/>
<path d="M1034.58 296.24 L1209.95 299.31 L1209.69 307.79 L1034.47 299.83Z" fill="#876afc"/>
<path d="M1034.52 298.49 L1209.81 304.61 L1209.4 313.09 L1034.35 302.07Z" fill="#876afc"/>
<path d="M1034.42 300.73 L1209.58 309.91 L1209.02 318.38 L1034.19 304.31Z" fill="#8669fc"/>
<path d="M1034.29 302.97 L1209.26 315.21 L1208.55 323.67 L1033.99 306.55Z" fill="#8669fc"/>
<path d="M1034.11 305.21 L1208.84 320.5 L1207.99 328.94 L1033.75 308.78Z" fill="#8669fc"/>
<path d="M1033.9 307.44 L1208.33 325.78 L1207.33 334.21 L1033.47 311.01Z" fill="#8669fc"/>
<path d="M1033.64 309.67 L1207.73 331.05 L1206.58 339.46 L1033.15 313.23Z" fill="#8669fc"/>
<path d="M1033.35 311.9 L1207.04 336.31 L1205.74 344.7 L1032.8 315.45Z" fill="#8669fc"/>
<path d="M1033.02 314.12 L1206.26 341.56 L1204.81 349.92 L1032.41 317.66Z" fill="#8568fc"/>
<path d="M1032.65 316.33 L1205.38 346.79 L1203.79 355.13 L1031.97 319.86Z" fill="#8568fc"/>
<path d="M1032.24 318.54 L1204.41 352.01 L1202.68 360.32 L1031.5 322.05Z" fill="#8568fc"/>
</g>
<g clip-path="url(#cDISCOVER)" shape-rendering="crispEdges">
<path d="M883.67 420.65 L853.21 593.38 L861.59 594.74 L887.21 421.22Z" fill="#b25daf"/>
<path d="M885.88 421.02 L858.44 594.26 L866.85 595.47 L889.44 421.53Z" fill="#b25db0"/>
<path d="M888.1 421.35 L863.69 595.04 L872.11 596.11 L891.67 421.8Z" fill="#b15db1"/>
<path d="M890.33 421.64 L868.95 595.73 L877.39 596.65 L893.9 422.03Z" fill="#b15db1"/>
<path d="M892.56 421.9 L874.22 596.33 L882.68 597.1 L896.13 422.22Z" fill="#b05db2"/>
<path d="M894.79 422.11 L879.5 596.84 L887.97 597.46 L898.37 422.37Z" fill="#b05db3"/>
<path d="M897.03 422.29 L884.79 597.26 L893.27 597.73 L900.61 422.49Z" fill="#b05db4"/>
<path d="M899.27 422.42 L890.09 597.58 L898.57 597.91 L902.86 422.56Z" fill="#af5db5"/>
<path d="M901.51 422.52 L895.39 597.81 L903.88 597.99 L905.1 422.6Z" fill="#af5db5"/>
<path d="M903.76 422.58 L900.69 597.95 L909.18 597.98 L907.35 422.59Z" fill="#ae5db6"/>
<path d="M906 422.6 L906 598 L914.49 597.88 L909.59 422.55Z" fill="#ae5db7"/>
<path d="M908.24 422.58 L911.31 597.95 L919.79 597.69 L911.83 422.47Z" fill="#ad5db7"/>
<path d="M910.49 422.52 L916.61 597.81 L925.09 597.4 L914.07 422.35Z" fill="#ad5db8"/>
<path d="M912.73 422.42 L921.91 597.58 L930.38 597.02 L916.31 422.19Z" fill="#ac5db8"/>
<path d="M914.97 422.29 L927.21 597.26 L935.67 596.55 L918.55 421.99Z" fill="#ab5db9"/>
<path d="M917.21 422.11 L932.5 596.84 L940.94 595.99 L920.78 421.75Z" fill="#ab5db9"/>
<path d="M919.44 421.9 L937.78 596.33 L946.21 595.33 L923.01 421.47Z" fill="#aa5dba"/>
<path d="M921.67 421.64 L943.05 595.73 L951.46 594.58 L925.23 421.15Z" fill="#a95dba"/>
<path d="M923.9 421.35 L948.31 595.04 L956.7 593.74 L927.45 420.8Z" fill="#a95dbb"/>
<path d="M926.12 421.02 L953.56 594.26 L961.92 592.81 L929.66 420.41Z" fill="#a85dbb"/>
<path d="M928.33 420.65 L958.79 593.38 L967.13 591.79 L931.86 419.97Z" fill="#a75dbb"/>
<path d="M930.54 420.24 L964.01 592.41 L972.32 590.68 L934.05 419.5Z" fill="#a75dbc"/>
<path d="M932.74 419.79 L969.21 591.36 L977.48 589.48 L936.24 418.99Z" fill="#a65dbc"/>
<path d="M934.93 419.3 L974.39 590.21 L982.63 588.18 L938.42 418.45Z" fill="#a55dbd"/>
<path d="M937.11 418.78 L979.54 588.97 L987.75 586.8 L940.58 417.86Z" fill="#a55dbd"/>
<path d="M939.28 418.22 L984.68 587.64 L992.85 585.33 L942.74 417.24Z" fill="#a45dbe"/>
<path d="M941.45 417.62 L989.79 586.22 L997.92 583.77 L944.88 416.58Z" fill="#a35dbe"/>
<path d="M943.6 416.98 L994.88 584.72 L1002.96 582.12 L947.02 415.88Z" fill="#a35dbf"/>
<path d="M945.74 416.31 L999.94 583.12 L1007.98 580.39 L949.14 415.15Z" fill="#a25dbf"/>
<path d="M947.87 415.59 L1004.97 581.44 L1012.96 578.56 L951.25 414.38Z" fill="#a15dc0"/>
<path d="M949.98 414.84 L1009.97 579.67 L1017.91 576.65 L953.34 413.57Z" fill="#a15dc0"/>
<path d="M952.09 414.06 L1014.94 577.81 L1022.83 574.66 L955.42 412.72Z" fill="#a05dc1"/>
<path d="M954.17 413.24 L1019.88 575.86 L1027.71 572.57 L957.48 411.84Z" fill="#9f5cc2"/>
<path d="M956.25 412.38 L1024.78 573.83 L1032.55 570.41 L959.53 410.93Z" fill="#9e5cc3"/>
<path d="M958.31 411.48 L1029.65 571.72 L1037.35 568.16 L961.57 409.98Z" fill="#9d5cc4"/>
<path d="M960.35 410.55 L1034.48 569.52 L1042.12 565.82 L963.58 408.99Z" fill="#9c5cc6"/>
<path d="M962.37 409.58 L1039.26 567.23 L1046.84 563.41 L965.58 407.97Z" fill="#9b5bc7"/>
<path d="M964.38 408.58 L1044.01 564.87 L1051.52 560.91 L967.56 406.91Z" fill="#9a5bc9"/>
<path d="M966.37 407.55 L1048.72 562.42 L1056.16 558.33 L969.52 405.82Z" fill="#995bca"/>
<path d="M968.35 406.48 L1053.38 559.88 L1060.75 555.67 L971.46 404.69Z" fill="#985bcc"/>
<path d="M970.3 405.37 L1058 557.27 L1065.29 552.92 L973.38 403.53Z" fill="#975bcd"/>
<path d="M972.23 404.23 L1062.57 554.58 L1069.79 550.11 L975.29 402.34Z" fill="#965acf"/>
<path d="M974.15 403.06 L1067.1 551.81 L1074.23 547.21 L977.17 401.11Z" fill="#955ad0"/>
<path d="M976.04 401.85 L1071.57 548.96 L1078.62 544.23 L979.02 399.86Z" fill="#945ad1"/>
<path d="M977.91 400.61 L1075.99 546.03 L1082.97 541.18 L980.86 398.56Z" fill="#935ad3"/>
<path d="M979.76 399.34 L1080.37 543.02 L1087.25 538.06 L982.67 397.24Z" fill="#9259d4"/>
<path d="M981.59 398.04 L1084.69 539.94 L1091.48 534.86 L984.46 395.89Z" fill="#9159d6"/>
<path d="M983.39 396.7 L1088.95 536.79 L1095.66 531.58 L986.23 394.5Z" fill="#9059d7"/>
<path d="M985.17 395.34 L1093.16 533.56 L1099.78 528.24 L987.97 393.09Z" fill="#8f59d9"/>
<path d="M986.93 393.94 L1097.31 530.25 L1103.84 524.82 L989.69 391.64Z" fill="#8e59da"/>
<path d="M988.66 392.51 L1101.41 526.88 L1107.83 521.33 L991.38 390.17Z" fill="#8d58db"/>
<path d="M990.37 391.06 L1105.44 523.43 L1111.77 517.77 L993.05 388.66Z" fill="#8c58dd"/>
<path d="M992.05 389.57 L1109.42 519.92 L1115.64 514.15 L994.69 387.13Z" fill="#8b58de"/>
<path d="M993.7 388.05 L1113.33 516.33 L1119.45 510.46 L996.3 385.57Z" fill="#8a58e0"/>
<path d="M995.33 386.51 L1117.18 512.68 L1123.2 506.7 L997.88 383.98Z" fill="#8a57e1"/>
<path d="M996.93 384.93 L1120.96 508.96 L1126.88 502.87 L999.44 382.36Z" fill="#8957e2"/>
<path d="M998.51 383.33 L1124.68 505.18 L1130.49 498.99 L1000.97 380.72Z" fill="#8857e3"/>
<path d="M1000.05 381.7 L1128.33 501.33 L1134.03 495.04 L1002.46 379.04Z" fill="#8757e5"/>
<path d="M1001.57 380.05 L1131.92 497.42 L1137.51 491.03 L1003.93 377.35Z" fill="#8757e6"/>
<path d="M1003.06 378.37 L1135.43 493.44 L1140.91 486.96 L1005.37 375.63Z" fill="#8657e7"/>
<path d="M1004.51 376.66 L1138.88 489.41 L1144.24 482.83 L1006.78 373.88Z" fill="#8557e8"/>
<path d="M1005.94 374.93 L1142.25 485.31 L1147.5 478.64 L1008.16 372.11Z" fill="#8557e9"/>
<path d="M1007.34 373.17 L1145.56 481.16 L1150.69 474.4 L1009.51 370.31Z" fill="#8457ea"/>
<path d="M1008.7 371.39 L1148.79 476.95 L1153.8 470.1 L1010.83 368.5Z" fill="#8357eb"/>
<path d="M1010.04 369.59 L1151.94 472.69 L1156.83 465.75 L1012.11 366.65Z" fill="#8357ec"/>
<path d="M1011.34 367.76 L1155.02 468.37 L1159.79 461.35 L1013.36 364.79Z" fill="#8257ed"/>
<path d="M1012.61 365.91 L1158.03 463.99 L1162.68 456.89 L1014.58 362.91Z" fill="#8257ee"/>
<path d="M1013.85 364.04 L1160.96 459.57 L1165.48 452.39 L1015.77 361Z" fill="#8157ef"/>
<path d="M1015.06 362.15 L1163.81 455.1 L1168.2 447.83 L1016.92 359.08Z" fill="#8057f0"/>
<path d="M1016.23 360.23 L1166.58 450.57 L1170.85 443.23 L1018.04 357.13Z" fill="#8057f1"/>
<path d="M1017.37 358.3 L1169.27 446 L1173.41 438.59 L1019.12 355.17Z" fill="#7f57f2"/>
<path d="M1018.48 356.35 L1171.88 441.38 L1175.9 433.9 L1020.17 353.18Z" fill="#7e57f3"/>
<path d="M1019.55 354.37 L1174.42 436.72 L1178.3 429.17 L1021.19 351.18Z" fill="#7e58f4"/>
<path d="M1020.58 352.38 L1176.87 432.01 L1180.61 424.4 L1022.17 349.16Z" fill="#7e58f5"/>
<path d="M1021.58 350.37 L1179.23 427.26 L1182.85 419.58 L1023.11 347.13Z" fill="#7e58f5"/>
<path d="M1022.55 348.35 L1181.52 422.48 L1185 414.73 L1024.02 345.07Z" fill="#7d59f6"/>
<path d="M1023.48 346.31 L1183.72 417.65 L1187.06 409.85 L1024.9 343.01Z" fill="#7d59f7"/>
<path d="M1024.38 344.25 L1185.83 412.78 L1189.04 404.92 L1025.73 340.92Z" fill="#7d59f8"/>
<path d="M1025.24 342.17 L1187.86 407.88 L1190.93 399.97 L1026.53 338.83Z" fill="#7d59f8"/>
<path d="M1026.06 340.09 L1189.81 402.94 L1192.74 394.98 L1027.3 336.72Z" fill="#7c5af9"/>
<path d="M1026.84 337.98 L1191.67 397.97 L1194.46 389.96 L1028.03 334.59Z" fill="#7c5afa"/>
<path d="M1027.59 335.87 L1193.44 392.97 L1196.09 384.91 L1028.72 332.46Z" fill="#7c5afb"/>
<path d="M1028.31 333.74 L1195.12 387.94 L1197.63 379.83 L1029.37 330.31Z" fill="#7c5afc"/>
<path d="M1028.98 331.6 L1196.72 382.88 L1199.09 374.73 L1029.98 328.15Z" fill="#7c5bfc"/>
<path d="M1029.62 329.45 L1198.22 377.79 L1200.45 369.6 L1030.56 325.98Z" fill="#7c5bfc"/>
<path d="M1030.22 327.28 L1199.64 372.68 L1201.72 364.45 L1031.1 323.8Z" fill="#7d5cfc"/>
<path d="M1030.78 325.11 L1200.97 367.54 L1202.91 359.28 L1031.6 321.61Z" fill="#7d5cfc"/>
<path d="M1031.3 322.93 L1202.21 362.39 L1204 354.09 L1032.06 319.42Z" fill="#7e5dfc"/>
<path d="M1031.79 320.74 L1203.36 357.21 L1205.01 348.88 L1032.49 317.21Z" fill="#7e5dfc"/>
<path d="M1032.24 318.54 L1204.41 352.01 L1205.92 343.65 L1032.87 315Z" fill="#7e5efc"/>
<path d="M1032.65 316.33 L1205.38 346.79 L1206.74 338.41 L1033.22 312.79Z" fill="#7f5efc"/>
<path d="M1033.02 314.12 L1206.26 341.56 L1207.47 333.15 L1033.53 310.56Z" fill="#7f5ffc"/>
<path d="M1033.35 311.9 L1207.04 336.31 L1208.11 327.89 L1033.8 308.33Z" fill="#805ffc"/>
<path d="M1033.64 309.67 L1207.73 331.05 L1208.65 322.61 L1034.03 306.1Z" fill="#8060fc"/>
<path d="M1033.9 307.44 L1208.33 325.78 L1209.1 317.32 L1034.22 303.87Z" fill="#8160fc"/>
<path d="M1034.11 305.21 L1208.84 320.5 L1209.46 312.03 L1034.37 301.63Z" fill="#8161fc"/>
<path d="M1034.29 302.97 L1209.26 315.21 L1209.73 306.73 L1034.49 299.39Z" fill="#8162fc"/>
<path d="M1034.42 300.73 L1209.58 309.91 L1209.91 301.43 L1034.56 297.14Z" fill="#8262fc"/>
<path d="M1034.52 298.49 L1209.81 304.61 L1209.99 296.12 L1034.6 294.9Z" fill="#8263fc"/>
<path d="M1034.58 296.24 L1209.95 299.31 L1209.98 290.82 L1034.59 292.65Z" fill="#8363fc"/>
<path d="M1034.6 294 L1210 294 L1209.88 285.51 L1034.55 290.41Z" fill="#8364fc"/>
<path d="M1034.58 291.76 L1209.95 288.69 L1209.69 280.21 L1034.47 288.17Z" fill="#8364fc"/>
<path d="M1034.52 289.51 L1209.81 283.39 L1209.4 274.91 L1034.35 285.93Z" fill="#8364fc"/>
<path d="M1034.42 287.27 L1209.58 278.09 L1209.02 269.62 L1034.19 283.69Z" fill="#8364fc"/>
<path d="M1034.29 285.03 L1209.26 272.79 L1208.55 264.33 L1033.99 281.45Z" fill="#8364fc"/>
<path d="M1034.11 282.79 L1208.84 267.5 L1207.99 259.06 L1033.75 279.22Z" fill="#8364fc"/>
</g>
<g clip-path="url(#cPLAN)" shape-rendering="crispEdges">
<path d="M267.26 168.21 L230.79 -3.36 L239.12 -5.01 L270.78 167.51Z" fill="#b05aae"/>
<path d="M269.46 167.76 L235.99 -4.41 L244.35 -5.92 L272.99 167.13Z" fill="#b15aad"/>
<path d="M271.67 167.35 L241.21 -5.38 L249.59 -6.74 L275.21 166.78Z" fill="#b15aad"/>
<path d="M273.88 166.98 L246.44 -6.26 L254.84 -7.47 L277.43 166.47Z" fill="#b15aac"/>
<path d="M276.1 166.65 L251.68 -7.04 L260.1 -8.1 L279.66 166.2Z" fill="#b25aab"/>
<path d="M278.32 166.36 L256.94 -7.73 L265.38 -8.65 L281.89 165.97Z" fill="#b25aaa"/>
<path d="M280.55 166.1 L262.21 -8.33 L270.66 -9.1 L284.13 165.78Z" fill="#b35aaa"/>
<path d="M282.79 165.89 L267.49 -8.84 L275.96 -9.46 L286.37 165.63Z" fill="#b35aa9"/>
<path d="M285.02 165.71 L272.78 -9.26 L281.25 -9.73 L288.61 165.51Z" fill="#b35aa8"/>
<path d="M287.26 165.58 L278.07 -9.58 L286.55 -9.91 L290.85 165.44Z" fill="#b45aa8"/>
<path d="M289.5 165.48 L283.37 -9.81 L291.86 -9.99 L293.09 165.4Z" fill="#b45aa7"/>
<path d="M291.75 165.42 L288.67 -9.95 L297.16 -9.98 L295.34 165.41Z" fill="#b45aa6"/>
<path d="M293.99 165.4 L293.98 -10 L302.46 -9.88 L297.58 165.45Z" fill="#b55aa5"/>
<path d="M296.23 165.42 L299.28 -9.95 L307.76 -9.69 L299.82 165.53Z" fill="#b65ba4"/>
<path d="M298.48 165.48 L304.58 -9.82 L313.06 -9.4 L302.06 165.65Z" fill="#b75ba3"/>
<path d="M300.72 165.58 L309.88 -9.58 L318.35 -9.02 L304.3 165.81Z" fill="#b95ba1"/>
<path d="M302.96 165.71 L315.18 -9.26 L323.63 -8.55 L306.54 166.01Z" fill="#ba5ba0"/>
<path d="M305.2 165.89 L320.46 -8.85 L328.91 -7.99 L308.77 166.25Z" fill="#bb5b9f"/>
<path d="M307.43 166.1 L325.74 -8.34 L334.17 -7.33 L310.99 166.53Z" fill="#bc5b9d"/>
<path d="M309.66 166.36 L331.01 -7.74 L339.42 -6.59 L313.21 166.84Z" fill="#bd5c9c"/>
<path d="M311.88 166.65 L336.27 -7.05 L344.66 -5.75 L315.43 167.2Z" fill="#be5c9a"/>
<path d="M314.1 166.98 L341.52 -6.26 L349.88 -4.82 L317.64 167.59Z" fill="#bf5c98"/>
<path d="M316.31 167.35 L346.75 -5.39 L355.09 -3.8 L319.84 168.02Z" fill="#c05c96"/>
<path d="M318.52 167.76 L351.96 -4.42 L360.27 -2.69 L322.03 168.49Z" fill="#c15c94"/>
<path d="M320.72 168.21 L357.16 -3.37 L365.44 -1.49 L324.22 169Z" fill="#c25c93"/>
<path d="M322.91 168.69 L362.34 -2.22 L370.58 -0.2 L326.4 169.55Z" fill="#c35d91"/>
<path d="M325.09 169.22 L367.5 -0.98 L375.7 1.19 L328.56 170.13Z" fill="#c45d8f"/>
<path d="M327.26 169.78 L372.63 0.35 L380.8 2.66 L330.72 170.75Z" fill="#c55d8d"/>
<path d="M329.43 170.38 L377.74 1.76 L385.87 4.21 L332.86 171.41Z" fill="#c65d8c"/>
<path d="M331.58 171.01 L382.83 3.27 L390.91 5.86 L335 172.11Z" fill="#c75d8a"/>
<path d="M333.72 171.69 L387.89 4.86 L395.92 7.6 L337.12 172.84Z" fill="#c85d88"/>
<path d="M335.85 172.4 L392.92 6.54 L400.9 9.42 L339.22 173.61Z" fill="#c95e86"/>
<path d="M337.96 173.15 L397.92 8.31 L405.85 11.33 L341.32 174.42Z" fill="#ca5e84"/>
<path d="M340.06 173.93 L402.89 10.17 L410.77 13.32 L343.4 175.26Z" fill="#cb5e83"/>
<path d="M342.15 174.75 L407.82 12.11 L415.65 15.4 L345.46 176.14Z" fill="#cc5e81"/>
<path d="M344.22 175.61 L412.72 14.14 L420.49 17.56 L347.51 177.06Z" fill="#cd5e7f"/>
<path d="M346.28 176.51 L417.59 16.26 L425.29 19.81 L349.54 178.01Z" fill="#ce5e7d"/>
<path d="M348.32 177.44 L422.41 18.45 L430.06 22.15 L351.56 179Z" fill="#cf5f7b"/>
<path d="M350.35 178.4 L427.2 20.74 L434.78 24.56 L353.55 180.02Z" fill="#d05f78"/>
<path d="M352.36 179.4 L431.95 23.1 L439.46 27.06 L355.53 181.08Z" fill="#d15f74"/>
<path d="M354.35 180.44 L436.65 25.55 L444.09 29.64 L357.49 182.17Z" fill="#d15f71"/>
<path d="M356.32 181.51 L441.32 28.08 L448.68 32.3 L359.43 183.29Z" fill="#d2606e"/>
<path d="M358.27 182.61 L445.93 30.69 L453.22 35.03 L361.36 184.45Z" fill="#d3606b"/>
<path d="M360.21 183.75 L450.5 33.38 L457.72 37.85 L363.26 185.64Z" fill="#d46068"/>
<path d="M362.12 184.92 L455.03 36.15 L462.16 40.75 L365.14 186.87Z" fill="#d56065"/>
<path d="M364.01 186.13 L459.5 39 L466.55 43.72 L367 188.12Z" fill="#d66062"/>
<path d="M365.88 187.37 L463.92 41.93 L470.9 46.77 L368.83 189.41Z" fill="#d7615e"/>
<path d="M367.73 188.64 L468.3 44.93 L475.18 49.89 L370.64 190.74Z" fill="#d8615b"/>
<path d="M369.56 189.94 L472.62 48.01 L479.41 53.09 L372.43 192.09Z" fill="#d96158"/>
<path d="M371.36 191.27 L476.88 51.16 L483.59 56.36 L374.2 193.47Z" fill="#da6155"/>
<path d="M373.14 192.64 L481.09 54.39 L487.7 59.7 L375.94 194.89Z" fill="#da6152"/>
<path d="M374.9 194.03 L485.24 57.69 L491.76 63.12 L377.66 196.33Z" fill="#db624f"/>
<path d="M376.63 195.46 L489.33 61.06 L495.76 66.6 L379.35 197.81Z" fill="#dc624c"/>
<path d="M378.34 196.92 L493.37 64.5 L499.7 70.16 L381.02 199.31Z" fill="#dc624b"/>
<path d="M380.02 198.4 L497.34 68.02 L503.57 73.78 L382.65 200.84Z" fill="#dd624a"/>
<path d="M381.67 199.92 L501.25 71.6 L507.38 77.47 L384.27 202.4Z" fill="#dd6249"/>
<path d="M383.3 201.46 L505.1 75.25 L511.13 81.23 L385.85 203.99Z" fill="#dd6248"/>
<path d="M508.89 78.97 L512.74 82.81 L388.75 206.88 L384.9 203.03Z" fill="#de6247"/>
<path d="M511.68 81.75 L515.53 85.6 L391.55 209.67 L387.69 205.82Z" fill="#de6246"/>
<path d="M514.47 84.54 L518.32 88.39 L394.34 212.46 L390.48 208.61Z" fill="#de6245"/>
<path d="M517.26 87.33 L521.11 91.18 L397.13 215.25 L393.27 211.4Z" fill="#df6244"/>
<path d="M520.05 90.12 L523.9 93.97 L399.92 218.04 L396.07 214.19Z" fill="#df6343"/>
<path d="M522.84 92.91 L526.69 96.76 L402.71 220.83 L398.86 216.98Z" fill="#e06342"/>
<path d="M525.63 95.7 L529.48 99.55 L405.5 223.62 L401.65 219.77Z" fill="#e06340"/>
<path d="M528.42 98.49 L532.27 102.34 L408.29 226.41 L404.44 222.56Z" fill="#e1633f"/>
<path d="M531.21 101.28 L535.06 105.13 L411.08 229.19 L407.23 225.35Z" fill="#e2633d"/>
<path d="M534 104.06 L537.85 107.91 L413.87 231.98 L410.02 228.13Z" fill="#e3643b"/>
<path d="M536.79 106.85 L540.65 110.7 L416.66 234.77 L412.81 230.92Z" fill="#e46439"/>
<path d="M539.58 109.64 L543.44 113.49 L419.45 237.56 L415.6 233.71Z" fill="#e56537"/>
<path d="M542.38 112.43 L546.23 116.28 L422.24 240.35 L418.39 236.5Z" fill="#e66535"/>
<path d="M545.17 115.22 L549.02 119.07 L425.03 243.14 L421.18 239.29Z" fill="#e76534"/>
<path d="M547.96 118.01 L551.81 121.86 L427.83 245.93 L423.97 242.08Z" fill="#e86632"/>
<path d="M550.75 120.8 L554.6 124.65 L430.62 248.72 L426.76 244.87Z" fill="#e96630"/>
<path d="M553.54 123.59 L557.39 127.44 L433.41 251.51 L429.55 247.66Z" fill="#ea672e"/>
<path d="M556.33 126.38 L560.18 130.22 L436.2 254.29 L432.35 250.44Z" fill="#eb672c"/>
<path d="M559.12 129.16 L562.97 133.01 L438.99 257.08 L435.14 253.23Z" fill="#ec672a"/>
<path d="M561.91 131.95 L565.76 135.8 L441.78 259.87 L437.93 256.02Z" fill="#ed6829"/>
<path d="M564.7 134.74 L568.55 138.59 L444.57 262.66 L440.72 258.81Z" fill="#ee6827"/>
<path d="M567.49 137.53 L571.34 141.38 L447.36 265.45 L443.51 261.6Z" fill="#ef6825"/>
<path d="M570.28 140.32 L574.13 144.17 L450.15 268.24 L446.3 264.39Z" fill="#f06923"/>
<path d="M573.07 143.11 L576.93 146.96 L452.94 271.03 L449.09 267.18Z" fill="#f16922"/>
<path d="M575.86 145.9 L579.72 149.75 L455.73 273.82 L451.88 269.97Z" fill="#f16921"/>
<path d="M578.66 148.69 L582.51 152.54 L458.52 276.6 L454.67 272.76Z" fill="#f26920"/>
<path d="M581.45 151.48 L585.3 155.32 L461.31 279.39 L457.46 275.54Z" fill="#f36a1f"/>
<path d="M584.24 154.26 L588.09 158.11 L464.1 282.18 L460.25 278.33Z" fill="#f36a1d"/>
<path d="M587.03 157.05 L590.88 160.9 L466.9 284.97 L463.04 281.12Z" fill="#f46a1c"/>
<path d="M589.82 159.84 L593.67 163.69 L469.69 287.76 L465.83 283.91Z" fill="#f46a1b"/>
<path d="M592.61 162.63 L596.46 166.48 L472.48 290.55 L468.63 286.7Z" fill="#f56a1a"/>
<path d="M595.4 165.42 L599.25 169.27 L475.27 293.34 L471.42 289.49Z" fill="#f56a19"/>
<path d="M598.19 168.21 L602.04 172.06 L478.06 296.13 L474.21 292.28Z" fill="#f66b18"/>
<path d="M600.98 171 L604.83 174.85 L480.85 298.92 L477 295.07Z" fill="#f76b17"/>
<path d="M603.77 173.79 L607.62 177.64 L483.64 301.7 L479.79 297.86Z" fill="#f76b16"/>
<path d="M606.56 176.57 L610.41 180.42 L486.43 304.49 L482.58 300.64Z" fill="#f86b15"/>
<path d="M609.35 179.36 L613.21 183.21 L489.22 307.28 L485.37 303.43Z" fill="#f86b13"/>
<path d="M612.14 182.15 L616 186 L492.01 310.07 L488.16 306.22Z" fill="#f96b12"/>
<path d="M614.94 184.94 L618.79 188.79 L494.8 312.86 L490.95 309.01Z" fill="#fa6c11"/>
<path d="M617.73 187.73 L621.58 191.58 L497.59 315.65 L493.74 311.8Z" fill="#fa6c10"/>
<path d="M620.52 190.52 L624.37 194.37 L500.38 318.44 L496.53 314.59Z" fill="#fb6c0f"/>
<path d="M623.31 193.31 L627.16 197.16 L503.18 321.23 L499.32 317.38Z" fill="#fb6c0f"/>
<path d="M626.1 196.1 L629.95 199.95 L505.97 324.02 L502.11 320.17Z" fill="#fb6c0f"/>
<path d="M628.89 198.89 L632.74 202.73 L508.76 326.8 L504.91 322.95Z" fill="#fb6c0f"/>
<path d="M631.68 201.67 L635.53 205.52 L511.55 329.59 L507.7 325.74Z" fill="#fb6c0e"/>
<path d="M634.47 204.46 L638.32 208.31 L514.34 332.38 L510.49 328.53Z" fill="#fb6c0e"/>
<path d="M637.26 207.25 L641.11 211.1 L517.13 335.17 L513.28 331.32Z" fill="#fb6c0e"/>
<path d="M640.05 210.04 L643.9 213.89 L519.92 337.96 L516.07 334.11Z" fill="#fb6c0e"/>
<path d="M642.84 212.83 L646.69 216.68 L522.71 340.75 L518.86 336.9Z" fill="#fb6c0e"/>
<path d="M645.63 215.62 L649.49 219.47 L525.5 343.54 L521.65 339.69Z" fill="#fb6b0e"/>
<path d="M648.42 218.41 L652.28 222.26 L528.29 346.33 L524.44 342.48Z" fill="#fb6b0e"/>
<path d="M651.22 221.2 L655.07 225.05 L531.08 349.11 L527.23 345.27Z" fill="#fb6b0e"/>
<path d="M654.01 223.98 L657.86 227.83 L533.87 351.9 L530.02 348.05Z" fill="#fb6b0e"/>
<path d="M656.8 226.77 L660.65 230.62 L536.66 354.69 L532.81 350.84Z" fill="#fc6b0d"/>
<path d="M659.59 229.56 L663.44 233.41 L539.46 357.48 L535.6 353.63Z" fill="#fc6b0d"/>
<path d="M662.38 232.35 L666.23 236.2 L542.25 360.27 L538.39 356.42Z" fill="#fc6b0d"/>
<path d="M665.17 235.14 L669.02 238.99 L545.04 363.06 L541.19 359.21Z" fill="#fc6b0d"/>
<path d="M667.96 237.93 L671.81 241.78 L547.83 365.85 L543.98 362Z" fill="#fc6b0d"/>
<path d="M670.75 240.72 L674.6 244.57 L550.62 368.64 L546.77 364.79Z" fill="#fc6b0d"/>
<path d="M673.54 243.51 L677.39 247.36 L553.41 371.43 L549.56 367.58Z" fill="#fc6b0d"/>
<path d="M676.33 246.3 L680.18 250.14 L556.2 374.21 L552.35 370.36Z" fill="#fc6b0d"/>
<path d="M679.12 249.08 L682.97 252.93 L558.99 377 L555.14 373.15Z" fill="#fc6b0d"/>
<path d="M681.91 251.87 L685.77 255.72 L561.78 379.79 L557.93 375.94Z" fill="#fc6b0d"/>
<path d="M684.7 254.66 L688.56 258.51 L564.57 382.58 L560.72 378.73Z" fill="#fc6b0d"/>
<path d="M687.5 257.45 L691.35 261.3 L567.36 385.37 L563.51 381.52Z" fill="#fc6b0d"/>
</g>
<g clip-path="url(#cANALYZE)" shape-rendering="crispEdges">
<path d="M633.7 203.69 L637.55 207.54 L513.57 331.61 L509.71 327.76Z" fill="#fc6b0d"/>
<path d="M636.49 206.48 L640.34 210.33 L516.36 334.4 L512.5 330.55Z" fill="#fc6b0d"/>
<path d="M639.28 209.27 L643.13 213.12 L519.15 337.19 L515.3 333.34Z" fill="#fc6b0d"/>
<path d="M642.07 212.06 L645.92 215.91 L521.94 339.98 L518.09 336.13Z" fill="#fc6b0d"/>
<path d="M644.86 214.85 L648.71 218.7 L524.73 342.76 L520.88 338.92Z" fill="#fc6b0d"/>
<path d="M647.65 217.64 L651.5 221.48 L527.52 345.55 L523.67 341.7Z" fill="#fc6b0d"/>
<path d="M650.44 220.42 L654.29 224.27 L530.31 348.34 L526.46 344.49Z" fill="#fc6b0d"/>
<path d="M653.23 223.21 L657.08 227.06 L533.1 351.13 L529.25 347.28Z" fill="#fc6b0d"/>
<path d="M656.02 226 L659.88 229.85 L535.89 353.92 L532.04 350.07Z" fill="#fc6b0d"/>
<path d="M658.81 228.79 L662.67 232.64 L538.68 356.71 L534.83 352.86Z" fill="#fc6b0d"/>
<path d="M661.61 231.58 L665.46 235.43 L541.47 359.5 L537.62 355.65Z" fill="#fc6b0d"/>
<path d="M664.4 234.37 L668.25 238.22 L544.26 362.29 L540.41 358.44Z" fill="#fc6b0d"/>
<path d="M667.19 237.16 L671.04 241.01 L547.06 365.08 L543.2 361.23Z" fill="#fc6b0d"/>
<path d="M669.98 239.95 L673.83 243.79 L549.85 367.86 L545.99 364.02Z" fill="#fc6b0d"/>
<path d="M672.77 242.73 L676.62 246.58 L552.64 370.65 L548.78 366.8Z" fill="#fc6b0d"/>
<path d="M675.56 245.52 L679.41 249.37 L555.43 373.44 L551.58 369.59Z" fill="#fc6b0d"/>
<path d="M678.35 248.31 L682.2 252.16 L558.22 376.23 L554.37 372.38Z" fill="#fc6b0d"/>
<path d="M681.14 251.1 L684.99 254.95 L561.01 379.02 L557.16 375.17Z" fill="#fc6b0d"/>
<path d="M683.93 253.89 L687.78 257.74 L563.8 381.81 L559.95 377.96Z" fill="#fc6b0d"/>
<path d="M686.72 256.68 L690.57 260.53 L566.59 384.6 L562.74 380.75Z" fill="#fc6b0d"/>
<path d="M689.51 259.47 L693.36 263.32 L569.38 387.39 L565.53 383.54Z" fill="#fc6b0d"/>
<path d="M692.3 262.26 L696.16 266.11 L572.17 390.17 L568.32 386.33Z" fill="#fb6b0e"/>
<path d="M695.09 265.05 L698.95 268.89 L574.96 392.96 L571.11 389.11Z" fill="#fb6b0e"/>
<path d="M697.89 267.83 L701.74 271.68 L577.75 395.75 L573.9 391.9Z" fill="#fb6b0f"/>
<path d="M700.68 270.62 L704.53 274.47 L580.54 398.54 L576.69 394.69Z" fill="#fa6b10"/>
<path d="M703.47 273.41 L707.32 277.26 L583.33 401.33 L579.48 397.48Z" fill="#fa6b10"/>
<path d="M706.26 276.2 L710.11 280.05 L586.13 404.12 L582.27 400.27Z" fill="#fa6b11"/>
<path d="M709.05 278.99 L712.9 282.84 L588.92 406.91 L585.06 403.06Z" fill="#f96b12"/>
<path d="M711.84 281.78 L715.69 285.63 L591.71 409.7 L587.86 405.85Z" fill="#f96b12"/>
<path d="M714.63 284.57 L718.48 288.42 L594.5 412.49 L590.65 408.64Z" fill="#f96b13"/>
<path d="M717.42 287.36 L721.27 291.21 L597.29 415.27 L593.44 411.43Z" fill="#f86b14"/>
<path d="M720.21 290.14 L724.06 293.99 L600.08 418.06 L596.23 414.21Z" fill="#f86b14"/>
<path d="M723 292.93 L726.85 296.78 L602.87 420.85 L599.02 417Z" fill="#f86b15"/>
<path d="M725.79 295.72 L729.64 299.57 L605.66 423.64 L601.81 419.79Z" fill="#f76b16"/>
<path d="M728.58 298.51 L732.44 302.36 L608.45 426.43 L604.6 422.58Z" fill="#f76b16"/>
<path d="M731.37 301.3 L735.23 305.15 L611.24 429.22 L607.39 425.37Z" fill="#f76b17"/>
<path d="M734.17 304.09 L738.02 307.94 L614.03 432.01 L610.18 428.16Z" fill="#f66b19"/>
<path d="M736.96 306.88 L740.81 310.73 L616.82 434.8 L612.97 430.95Z" fill="#f56b1a"/>
<path d="M739.75 309.67 L743.6 313.52 L619.61 437.59 L615.76 433.74Z" fill="#f56a1c"/>
<path d="M742.54 312.46 L746.39 316.3 L622.41 440.37 L618.55 436.52Z" fill="#f46a1d"/>
<path d="M745.33 315.24 L749.18 319.09 L625.2 443.16 L621.34 439.31Z" fill="#f46a1f"/>
<path d="M748.12 318.03 L751.97 321.88 L627.99 445.95 L624.14 442.1Z" fill="#f36a20"/>
<path d="M750.91 320.82 L754.76 324.67 L630.78 448.74 L626.93 444.89Z" fill="#f26a22"/>
<path d="M753.7 323.61 L757.55 327.46 L633.57 451.53 L629.72 447.68Z" fill="#f26923"/>
<path d="M756.49 326.4 L760.34 330.25 L636.36 454.32 L632.51 450.47Z" fill="#f16925"/>
<path d="M759.28 329.19 L763.13 333.04 L639.15 457.11 L635.3 453.26Z" fill="#f16926"/>
<path d="M762.07 331.98 L765.92 335.83 L641.94 459.9 L638.09 456.05Z" fill="#f06928"/>
<path d="M764.86 334.77 L768.72 338.62 L644.73 462.68 L640.88 458.84Z" fill="#ef6929"/>
<path d="M767.65 337.56 L771.51 341.4 L647.52 465.47 L643.67 461.62Z" fill="#ef682b"/>
<path d="M770.45 340.34 L774.3 344.19 L650.31 468.26 L646.46 464.41Z" fill="#ee682c"/>
<path d="M773.24 343.13 L777.09 346.98 L653.1 471.05 L649.25 467.2Z" fill="#ed682e"/>
<path d="M776.03 345.92 L779.88 349.77 L655.89 473.84 L652.04 469.99Z" fill="#ed682f"/>
<path d="M778.82 348.71 L782.67 352.56 L658.69 476.63 L654.83 472.78Z" fill="#ec6731"/>
<path d="M781.61 351.5 L785.46 355.35 L661.48 479.42 L657.62 475.57Z" fill="#eb6733"/>
<path d="M784.4 354.29 L788.25 358.14 L664.27 482.21 L660.42 478.36Z" fill="#ea6735"/>
<path d="M787.19 357.08 L791.04 360.93 L667.06 485 L663.21 481.15Z" fill="#e96736"/>
<path d="M789.98 359.87 L793.83 363.71 L669.85 487.78 L666 483.94Z" fill="#e86738"/>
<path d="M792.77 362.65 L796.62 366.5 L672.64 490.57 L668.79 486.72Z" fill="#e7663a"/>
<path d="M795.56 365.44 L799.41 369.29 L675.43 493.36 L671.58 489.51Z" fill="#e6663c"/>
<path d="M798.35 368.23 L802.2 372.08 L678.22 496.15 L674.37 492.3Z" fill="#e5663e"/>
<path d="M801.14 371.02 L805 374.87 L681.01 498.94 L677.16 495.09Z" fill="#e4663f"/>
<path d="M803.93 373.81 L807.79 377.66 L683.8 501.73 L679.95 497.88Z" fill="#e36541"/>
<path d="M806.73 376.6 L810.58 380.45 L686.59 504.52 L682.74 500.67Z" fill="#e26543"/>
<path d="M809.52 379.39 L813.37 383.24 L689.38 507.31 L685.53 503.46Z" fill="#e16545"/>
<path d="M812.31 382.18 L816.16 386.03 L692.17 510.09 L688.32 506.25Z" fill="#e06547"/>
<path d="M815.1 384.97 L691.11 509.03 L697.2 514.95 L817.67 387.47Z" fill="#df6449"/>
<path d="M816.7 386.54 L694.9 512.75 L701.09 518.56 L819.32 388.99Z" fill="#dd644c"/>
<path d="M818.33 388.08 L698.75 516.4 L705.04 522.1 L820.99 390.49Z" fill="#dc634e"/>
<path d="M819.98 389.6 L702.66 519.98 L709.05 525.57 L822.68 391.96Z" fill="#da6351"/>
<path d="M821.66 391.08 L706.63 523.5 L713.12 528.97 L824.41 393.4Z" fill="#d96253"/>
<path d="M823.37 392.54 L710.67 526.94 L717.25 532.3 L826.15 394.81Z" fill="#d86256"/>
<path d="M825.1 393.97 L714.76 530.31 L721.43 535.56 L827.92 396.19Z" fill="#d66259"/>
<path d="M826.86 395.36 L718.91 533.61 L725.67 538.74 L829.72 397.53Z" fill="#d5615b"/>
<path d="M828.64 396.73 L723.12 536.84 L729.97 541.85 L831.54 398.85Z" fill="#d3615e"/>
<path d="M830.44 398.06 L727.39 539.99 L734.32 544.88 L833.38 400.13Z" fill="#d26060"/>
<path d="M832.27 399.36 L731.7 543.07 L738.73 547.84 L835.24 401.38Z" fill="#d16062"/>
<path d="M834.12 400.63 L736.08 546.08 L743.18 550.72 L837.12 402.6Z" fill="#d16063"/>
<path d="M835.99 401.87 L740.5 549 L747.68 553.52 L839.03 403.78Z" fill="#d06065"/>
<path d="M837.88 403.08 L744.97 551.85 L752.24 556.25 L840.95 404.94Z" fill="#cf6067"/>
<path d="M839.8 404.25 L749.5 554.62 L756.83 558.89 L842.9 406.05Z" fill="#ce6069"/>
<path d="M841.73 405.39 L754.07 557.31 L761.48 561.45 L844.86 407.14Z" fill="#cd606b"/>
<path d="M843.68 406.49 L758.69 559.92 L766.17 563.93 L846.85 408.19Z" fill="#cc606d"/>
<path d="M845.65 407.56 L763.35 562.45 L770.9 566.33 L848.85 409.2Z" fill="#cb5f6f"/>
<path d="M847.64 408.6 L768.05 564.9 L775.67 568.64 L850.87 410.18Z" fill="#ca5f71"/>
<path d="M849.65 409.6 L772.8 567.27 L780.48 570.88 L852.9 411.13Z" fill="#c95f73"/>
<path d="M851.68 410.56 L777.59 569.55 L785.33 573.02 L854.95 412.03Z" fill="#c85f74"/>
<path d="M853.72 411.49 L782.41 571.75 L790.22 575.09 L857.02 412.91Z" fill="#c75f76"/>
<path d="M855.78 412.39 L787.28 573.86 L795.14 577.06 L859.1 413.74Z" fill="#c65f78"/>
<path d="M857.85 413.25 L792.18 575.89 L800.09 578.96 L861.2 414.54Z" fill="#c55f7a"/>
<path d="M859.94 414.07 L797.12 577.83 L805.08 580.76 L863.31 415.31Z" fill="#c45f7c"/>
<path d="M862.04 414.85 L802.08 579.69 L810.1 582.48 L865.43 416.03Z" fill="#c35e7e"/>
<path d="M864.16 415.6 L807.08 581.46 L815.15 584.11 L867.57 416.72Z" fill="#c35e80"/>
<path d="M866.28 416.31 L812.11 583.14 L820.22 585.65 L869.71 417.37Z" fill="#c25e82"/>
<path d="M868.42 416.99 L817.17 584.73 L825.32 587.1 L871.87 417.99Z" fill="#c15d85"/>
<path d="M870.58 417.62 L822.26 586.24 L830.45 588.46 L874.04 418.57Z" fill="#c05d87"/>
<path d="M872.74 418.22 L827.37 587.66 L835.6 589.74 L876.22 419.1Z" fill="#bf5d89"/>
<path d="M874.91 418.79 L832.51 588.98 L840.77 590.92 L878.41 419.6Z" fill="#bf5d8b"/>
<path d="M877.09 419.31 L837.66 590.22 L845.96 592.01 L880.6 420.07Z" fill="#be5c8d"/>
<path d="M879.28 419.79 L842.84 591.37 L851.17 593.01 L882.8 420.49Z" fill="#bd5c8f"/>
<path d="M881.48 420.24 L848.04 592.42 L856.39 593.93 L885.01 420.88Z" fill="#bc5c91"/>
<path d="M883.69 420.65 L853.25 593.39 L861.63 594.75 L887.23 421.22Z" fill="#bc5b93"/>
<path d="M885.9 421.02 L858.49 594.26 L866.89 595.47 L889.45 421.53Z" fill="#bb5b95"/>
<path d="M888.12 421.35 L863.73 595.05 L872.15 596.11 L891.68 421.8Z" fill="#bb5b96"/>
<path d="M890.34 421.64 L868.99 595.74 L877.43 596.65 L893.91 422.03Z" fill="#ba5b97"/>
<path d="M892.57 421.9 L874.26 596.34 L882.71 597.11 L896.15 422.22Z" fill="#ba5b98"/>
<path d="M894.81 422.11 L879.54 596.85 L888.01 597.47 L898.39 422.37Z" fill="#b95b99"/>
<path d="M897.04 422.29 L884.83 597.26 L893.3 597.73 L900.63 422.49Z" fill="#b95b9a"/>
<path d="M899.28 422.42 L890.12 597.59 L898.6 597.91 L902.87 422.56Z" fill="#b95b9b"/>
<path d="M901.53 422.52 L895.42 597.82 L903.91 597.99 L905.11 422.6Z" fill="#b85b9c"/>
<path d="M903.77 422.58 L900.72 597.95 L909.21 597.98 L907.36 422.59Z" fill="#b85a9d"/>
<path d="M906.01 422.6 L906.03 598 L914.51 597.88 L909.6 422.55Z" fill="#b75a9f"/>
<path d="M908.26 422.58 L911.33 597.95 L919.81 597.69 L911.84 422.47Z" fill="#b75aa0"/>
<path d="M910.5 422.52 L916.63 597.81 L925.11 597.4 L914.08 422.35Z" fill="#b65aa1"/>
<path d="M912.74 422.42 L921.93 597.58 L930.4 597.02 L916.32 422.19Z" fill="#b65aa2"/>
<path d="M914.98 422.29 L927.23 597.26 L935.68 596.55 L918.56 421.99Z" fill="#b55aa3"/>
<path d="M917.22 422.11 L932.51 596.84 L940.96 595.98 L920.79 421.75Z" fill="#b55aa4"/>
<path d="M919.45 421.89 L937.79 596.33 L946.22 595.33 L923.01 421.47Z" fill="#b55aa5"/>
<path d="M921.68 421.64 L943.06 595.73 L951.47 594.58 L925.24 421.15Z" fill="#b45aa6"/>
<path d="M923.9 421.35 L948.32 595.04 L956.71 593.74 L927.45 420.8Z" fill="#b45aa7"/>
<path d="M926.12 421.02 L953.57 594.26 L961.93 592.81 L929.66 420.4Z" fill="#b35aa8"/>
<path d="M928.34 420.65 L958.8 593.38 L967.14 591.79 L931.86 419.97Z" fill="#b35aa9"/>
<path d="M930.54 420.24 L964.01 592.41 L972.32 590.68 L934.06 419.5Z" fill="#b25aaa"/>
<path d="M932.74 419.79 L969.21 591.36 L977.49 589.47 L936.24 418.99Z" fill="#b25aaa"/>
<path d="M934.93 419.3 L974.39 590.21 L982.63 588.18 L938.42 418.45Z" fill="#b25aaa"/>
<path d="M937.11 418.78 L979.55 588.97 L987.75 586.8 L940.58 417.86Z" fill="#b25aaa"/>
<path d="M939.28 418.22 L984.68 587.64 L992.85 585.33 L942.74 417.24Z" fill="#b25aaa"/>
</g>
<g clip-path="url(#cORANGE)"><rect x="560" y="180" width="140" height="300" fill="url(#fh)" mask="url(#fm)"/></g>
<polyline points="292,0.01 270.6,77.4 292.6,155.41" fill="none" stroke="#ee9eea" stroke-width="2.4" stroke-linejoin="round"/>
<polyline points="0.03,298 80.4,320.5 155.5,299.3" fill="none" stroke="#d2c6fe" stroke-width="2.4" stroke-linejoin="round"/>
<polyline points="272.01,430.84 293.4,509 272.95,587.25" fill="none" stroke="#ffffff" stroke-width="2.4" stroke-linejoin="round"/>
<polyline points="664,248.1 591.3,288.8 553.46,357.34" fill="none" stroke="#ffab22" stroke-width="2.6" stroke-linejoin="round"/>
<polyline points="910,0.03 931.4,79.4 910.91,155.49" fill="none" stroke="#edeaff" stroke-width="2.4" stroke-linejoin="round"/>
<polyline points="1044.5,299.32 1119.9,320.9 1199.98,297.6" fill="none" stroke="#cdb6fd" stroke-width="2.4" stroke-linejoin="round"/>
<polyline points="927.11,430.98 905.7,509 926.25,587.3" fill="none" stroke="#ee9eea" stroke-width="2.4" stroke-linejoin="round"/>
<rect x="0" y="0" width="1200" height="588" fill="#fff" filter="url(#grain)" clip-path="url(#cALL)"/>
<text class="lb" transform="translate(138.98 155.88) rotate(-47.05)" x="0" y="8.95" style="letter-spacing:0.3px">DEVELOP</text>
<text class="lb" transform="translate(463.46 160.44) rotate(45.11)" x="0" y="8.95" style="letter-spacing:0.98px">PLAN</text>
<text class="lb" transform="translate(742.22 156.06) rotate(-43.37)" x="0" y="8.95" style="letter-spacing:0.08px">OPERATE</text>
<text class="lb" transform="translate(1062.52 157.48) rotate(47.34)" x="0" y="8.95" style="letter-spacing:-0.13px">OBSERVE</text>
<text class="lb" transform="translate(1051.98 445.46) rotate(-45.02)" x="0" y="8.95" style="letter-spacing:0.34px">DISCOVER</text>
<text class="lb" transform="translate(736.34 432.8) rotate(43.77)" x="0" y="8.95" style="letter-spacing:0.99px">ANALYZE</text>
<text class="lb" transform="translate(438.22 454.78) rotate(-40.93)" x="0" y="8.95" style="letter-spacing:0.32px">DEPLOY</text>
<text class="lb" transform="translate(141.5 448.72) rotate(45.44)" x="0" y="8.95" style="letter-spacing:1.04px">TEST</text>
<text class="ct" x="304.95" y="317.4" textLength="132.5" lengthAdjust="spacingAndGlyphs">DATA</text>
<text class="ct" x="905.8" y="317.45" textLength="105.7" lengthAdjust="spacingAndGlyphs">OPS</text>
</svg></body></html>
